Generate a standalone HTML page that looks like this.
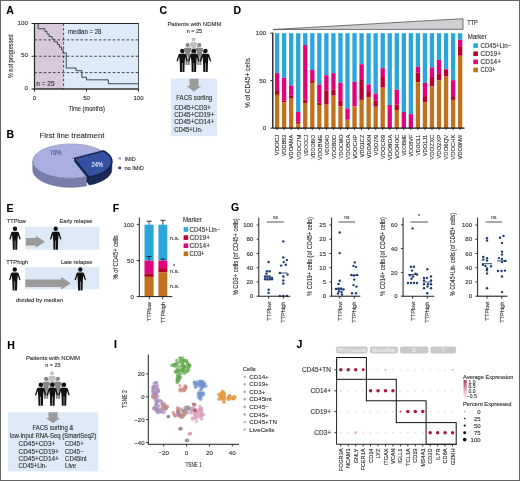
<!DOCTYPE html>
<html><head><meta charset="utf-8"><style>
html,body{margin:0;padding:0;background:#fff;}
svg{display:block;will-change:transform;}
text{font-family:"Liberation Sans", sans-serif;stroke:currentColor;stroke-width:0.12px;}
</style></head><body>
<svg width="520" height="481" viewBox="0 0 520 481">
<rect x="0" y="0" width="520" height="481" fill="#fff"/>
<text x="6.30" y="14.20" font-size="10.5" text-anchor="start" font-weight="bold" fill="#000" color="#000" >A</text>
<rect x="34.50" y="23.50" width="29.12" height="65.50" fill="#d9c8db" />
<rect x="63.62" y="23.50" width="74.88" height="65.50" fill="#ddeaf8" />
<line x1="34.50" y1="72.62" x2="138.50" y2="72.62" stroke="#333" stroke-width="0.9" stroke-dasharray="2.6,2"/>
<line x1="34.50" y1="56.25" x2="138.50" y2="56.25" stroke="#333" stroke-width="0.9" stroke-dasharray="2.6,2"/>
<line x1="34.50" y1="39.88" x2="138.50" y2="39.88" stroke="#333" stroke-width="0.9" stroke-dasharray="2.6,2"/>
<line x1="63.62" y1="23.50" x2="63.62" y2="89.00" stroke="#333" stroke-width="0.9" stroke-dasharray="2.6,2"/>
<path d="M34.50,23.50 L38.14,23.50 L38.14,28.74 L44.90,28.74 L44.90,31.36 L46.98,31.36 L46.98,33.98 L49.06,33.98 L49.06,36.60 L52.18,36.60 L52.18,39.22 L54.26,39.22 L54.26,41.84 L57.38,41.84 L57.38,44.46 L59.46,44.46 L59.46,47.08 L61.54,47.08 L61.54,49.70 L63.10,49.70 L63.10,52.98 L66.22,52.98 L66.22,68.04 L76.10,68.04 L76.10,70.66 L81.82,70.66 L81.82,77.21 L86.50,77.21 L86.50,79.83 L108.34,79.83 L108.34,83.76 L138.50,83.76" fill="none" stroke="#3a4a4a" stroke-width="1"/>
<rect x="34.5" y="23.5" width="104.0" height="65.5" fill="none" stroke="#333" stroke-width="0.8"/>
<line x1="34.50" y1="23.50" x2="138.50" y2="23.50" stroke="#222" stroke-width="1.1"/>
<line x1="34.50" y1="23.00" x2="34.50" y2="89.50" stroke="#222" stroke-width="1.2"/>
<line x1="33.50" y1="89.00" x2="138.50" y2="89.00" stroke="#222" stroke-width="1.2"/>
<line x1="31.50" y1="89.00" x2="34.50" y2="89.00" stroke="#222" stroke-width="1"/>
<text x="27.90" y="90.20" font-size="6.2" text-anchor="end" font-weight="normal" fill="#303030" color="#303030" >0</text>
<line x1="31.50" y1="56.25" x2="34.50" y2="56.25" stroke="#222" stroke-width="1"/>
<text x="27.90" y="57.45" font-size="6.2" text-anchor="end" font-weight="normal" fill="#303030" color="#303030" >50</text>
<line x1="31.50" y1="23.50" x2="34.50" y2="23.50" stroke="#222" stroke-width="1"/>
<text x="27.90" y="24.70" font-size="6.2" text-anchor="end" font-weight="normal" fill="#303030" color="#303030" >100</text>
<line x1="34.50" y1="89.00" x2="34.50" y2="91.50" stroke="#222" stroke-width="1"/>
<text x="34.50" y="99.80" font-size="6" text-anchor="middle" font-weight="normal" fill="#303030" color="#303030" >0</text>
<line x1="86.50" y1="89.00" x2="86.50" y2="91.50" stroke="#222" stroke-width="1"/>
<text x="86.50" y="99.80" font-size="6" text-anchor="middle" font-weight="normal" fill="#303030" color="#303030" >50</text>
<line x1="138.50" y1="89.00" x2="138.50" y2="91.50" stroke="#222" stroke-width="1"/>
<text x="138.50" y="99.80" font-size="6" text-anchor="middle" font-weight="normal" fill="#303030" color="#303030" >100</text>
<text x="86.75" y="111.00" font-size="7.0" text-anchor="middle" font-weight="normal" fill="#303030" color="#303030" textLength="36.5" lengthAdjust="spacingAndGlyphs" >Time (months)</text>
<text x="12.60" y="56.30" font-size="7.2" text-anchor="middle" font-weight="normal" fill="#303030" color="#303030" textLength="44" lengthAdjust="spacingAndGlyphs" transform="rotate(-90 12.60 56.30)" >% not progressed</text>
<text x="68.00" y="34.00" font-size="6.8" text-anchor="start" font-weight="normal" fill="#303030" color="#303030" textLength="33.5" lengthAdjust="spacingAndGlyphs" >median = 28</text>
<text x="36.20" y="86.00" font-size="6.4" text-anchor="start" font-weight="normal" fill="#303030" color="#303030" textLength="18.4" lengthAdjust="spacingAndGlyphs" >n = 25</text>
<text x="6.60" y="137.60" font-size="10.5" text-anchor="start" font-weight="bold" fill="#000" color="#000" >B</text>
<text x="72.00" y="138.00" font-size="7.4" text-anchor="middle" font-weight="normal" fill="#303030" color="#303030" textLength="65" lengthAdjust="spacingAndGlyphs" >First line treatment</text>
<path d="M111.80,161.40 A38.2,17.2 0 0 1 89.14,177.11 L89.14,185.11 A38.2,17.2 0 0 0 111.80,169.40 Z" fill="#1a2857" stroke="#101a40" stroke-width="0.6"/>
<path d="M74.19999999999999,158.60000000000002 L89.14,177.11 L89.14,185.11 L74.19999999999999,166.60000000000002 Z" fill="#14204a"/>
<path d="M71.6,158.3 L101.10,150.51 L103.70,150.81 L74.20,158.60 Z" fill="#1a2a5c"/>
<path d="M74.20,158.60 L103.70,150.81 A38.2,17.2 0 0 1 89.14,177.11 Z" fill="#3451a2" stroke="#15224e" stroke-width="1.4" stroke-linejoin="round"/>
<path d="M86.54,176.81 A38.2,17.2 0 0 1 32.80,161.10 L32.80,170.10 A38.2,17.2 0 0 0 86.54,185.81 Z" fill="#787eab" stroke="#5a5f88" stroke-width="0.5"/>
<path d="M71.6,158.3 L86.54,176.81 A38.2,17.2 0 1 1 101.10,150.51 Z" fill="#a9b0e0" stroke="#6e74a0" stroke-width="0.5"/>
<text x="55.70" y="155.20" font-size="6.8" text-anchor="middle" font-weight="normal" fill="#4e5588" color="#4e5588" textLength="11.5" lengthAdjust="spacingAndGlyphs" >76%</text>
<text x="97.20" y="166.80" font-size="6.8" text-anchor="middle" font-weight="normal" fill="#eef0ff" color="#eef0ff" textLength="11.5" lengthAdjust="spacingAndGlyphs" >24%</text>
<rect x="118.40" y="157.00" width="2.60" height="2.60" fill="#a9b0e0" />
<text x="124.40" y="160.60" font-size="6.2" text-anchor="start" font-weight="normal" fill="#303030" color="#303030" textLength="11.3" lengthAdjust="spacingAndGlyphs" >IMiD</text>
<rect x="118.40" y="166.60" width="2.60" height="2.60" fill="#26387a" />
<text x="124.40" y="170.20" font-size="6.2" text-anchor="start" font-weight="normal" fill="#303030" color="#303030" textLength="19.5" lengthAdjust="spacingAndGlyphs" >no IMiD</text>
<text x="159.50" y="14.40" font-size="10.5" text-anchor="start" font-weight="bold" fill="#000" color="#000" >C</text>
<text x="194.40" y="26.00" font-size="6.2" text-anchor="middle" font-weight="normal" fill="#303030" color="#303030" textLength="54" lengthAdjust="spacingAndGlyphs" >Patients with NDMM</text>
<text x="194.40" y="33.00" font-size="6.2" text-anchor="middle" font-weight="normal" fill="#303030" color="#303030" textLength="15.5" lengthAdjust="spacingAndGlyphs" >n = 25</text>
<g transform="translate(193.60,39.40) scale(0.88)" fill="#c2c2c2"><circle cx="0" cy="0" r="2.2"/><path d="M-2.3,2.9 Q-3.5,2.9 -3.9,4.3 L-5.7,10.2 Q-5.3,10.9 -4.5,10.6 L-3.0,5.9 L-2.4,12.0 L2.4,12.0 L3.0,5.9 L4.5,10.6 Q5.3,10.9 5.7,10.2 L3.9,4.3 Q3.5,2.9 2.3,2.9 Z"/><path d="M-2.45,11.5 L-0.25,11.5 L-0.25,21.0 L-2.2,21.0 Z M0.25,11.5 L2.45,11.5 L2.2,21.0 L0.25,21.0 Z"/></g>
<g transform="translate(187.60,45.00) scale(0.95)" fill="#858585"><circle cx="0" cy="0" r="2.2"/><path d="M-2.3,2.9 Q-3.5,2.9 -3.9,4.3 L-5.7,10.2 Q-5.3,10.9 -4.5,10.6 L-3.0,5.9 L-2.4,12.0 L2.4,12.0 L3.0,5.9 L4.5,10.6 Q5.3,10.9 5.7,10.2 L3.9,4.3 Q3.5,2.9 2.3,2.9 Z"/><path d="M-2.45,11.5 L-0.25,11.5 L-0.25,21.0 L-2.2,21.0 Z M0.25,11.5 L2.45,11.5 L2.2,21.0 L0.25,21.0 Z"/></g>
<g transform="translate(199.40,45.00) scale(0.95)" fill="#858585"><circle cx="0" cy="0" r="2.2"/><path d="M-2.3,2.9 Q-3.5,2.9 -3.9,4.3 L-5.7,10.2 Q-5.3,10.9 -4.5,10.6 L-3.0,5.9 L-2.4,12.0 L2.4,12.0 L3.0,5.9 L4.5,10.6 Q5.3,10.9 5.7,10.2 L3.9,4.3 Q3.5,2.9 2.3,2.9 Z"/><path d="M-2.45,11.5 L-0.25,11.5 L-0.25,21.0 L-2.2,21.0 Z M0.25,11.5 L2.45,11.5 L2.2,21.0 L0.25,21.0 Z"/></g>
<g transform="translate(182.20,50.90) scale(1.0)" fill="#111"><circle cx="0" cy="0" r="2.2"/><path d="M-2.3,2.9 Q-3.5,2.9 -3.9,4.3 L-5.7,10.2 Q-5.3,10.9 -4.5,10.6 L-3.0,5.9 L-2.4,12.0 L2.4,12.0 L3.0,5.9 L4.5,10.6 Q5.3,10.9 5.7,10.2 L3.9,4.3 Q3.5,2.9 2.3,2.9 Z"/><path d="M-2.45,11.5 L-0.25,11.5 L-0.25,21.0 L-2.2,21.0 Z M0.25,11.5 L2.45,11.5 L2.2,21.0 L0.25,21.0 Z"/></g>
<g transform="translate(193.90,50.90) scale(1.0)" fill="#111"><circle cx="0" cy="0" r="2.2"/><path d="M-2.3,2.9 Q-3.5,2.9 -3.9,4.3 L-5.7,10.2 Q-5.3,10.9 -4.5,10.6 L-3.0,5.9 L-2.4,12.0 L2.4,12.0 L3.0,5.9 L4.5,10.6 Q5.3,10.9 5.7,10.2 L3.9,4.3 Q3.5,2.9 2.3,2.9 Z"/><path d="M-2.45,11.5 L-0.25,11.5 L-0.25,21.0 L-2.2,21.0 Z M0.25,11.5 L2.45,11.5 L2.2,21.0 L0.25,21.0 Z"/></g>
<g transform="translate(205.50,50.90) scale(1.0)" fill="#111"><circle cx="0" cy="0" r="2.2"/><path d="M-2.3,2.9 Q-3.5,2.9 -3.9,4.3 L-5.7,10.2 Q-5.3,10.9 -4.5,10.6 L-3.0,5.9 L-2.4,12.0 L2.4,12.0 L3.0,5.9 L4.5,10.6 Q5.3,10.9 5.7,10.2 L3.9,4.3 Q3.5,2.9 2.3,2.9 Z"/><path d="M-2.45,11.5 L-0.25,11.5 L-0.25,21.0 L-2.2,21.0 Z M0.25,11.5 L2.45,11.5 L2.2,21.0 L0.25,21.0 Z"/></g>
<rect x="170.80" y="78.50" width="46.10" height="57.70" fill="#dde9f7" />
<path d="M189.50,78.80 L198.50,78.80 L198.50,86.00 L201.60,86.00 L194.00,91.60 L186.40,86.00 L189.50,86.00 Z" fill="#9a9a9a"/>
<text x="194.20" y="100.30" font-size="6.3" text-anchor="middle" font-weight="normal" fill="#303030" color="#303030" textLength="36" lengthAdjust="spacingAndGlyphs" >FACS sorting</text>
<text x="174.20" y="109.60" font-size="6.4" text-anchor="start" font-weight="normal" fill="#303030" color="#303030" textLength="36.6" lengthAdjust="spacingAndGlyphs" >CD45+CD3+</text>
<text x="174.20" y="117.00" font-size="6.4" text-anchor="start" font-weight="normal" fill="#303030" color="#303030" textLength="40.2" lengthAdjust="spacingAndGlyphs" >CD45+CD19+</text>
<text x="174.20" y="124.40" font-size="6.4" text-anchor="start" font-weight="normal" fill="#303030" color="#303030" textLength="40.2" lengthAdjust="spacingAndGlyphs" >CD45+CD14+</text>
<text x="174.20" y="131.80" font-size="6.4" text-anchor="start" font-weight="normal" fill="#303030" color="#303030" textLength="28.5" lengthAdjust="spacingAndGlyphs" >CD45+Lin-</text>
<text x="233.50" y="14.40" font-size="10.5" text-anchor="start" font-weight="bold" fill="#000" color="#000" >D</text>
<rect x="274.95" y="33.20" width="4.30" height="39.86" fill="#2aa6dd" />
<rect x="274.95" y="73.06" width="4.30" height="17.08" fill="#e2037c" />
<rect x="274.95" y="90.14" width="4.30" height="4.74" fill="#b8002a" />
<rect x="274.95" y="94.88" width="4.30" height="33.22" fill="#c2721f" />
<line x1="277.10" y1="128.10" x2="277.10" y2="130.10" stroke="#222" stroke-width="0.8"/>
<text x="279.40" y="134.70" font-size="5.8" text-anchor="end" font-weight="normal" fill="#303030" color="#303030" textLength="20.7" lengthAdjust="spacingAndGlyphs" transform="rotate(-90 279.40 134.70)" >VDOCJ</text>
<rect x="281.99" y="33.20" width="4.30" height="44.60" fill="#2aa6dd" />
<rect x="281.99" y="77.80" width="4.30" height="22.78" fill="#e2037c" />
<rect x="281.99" y="100.58" width="4.30" height="1.90" fill="#b8002a" />
<rect x="281.99" y="102.48" width="4.30" height="25.62" fill="#c2721f" />
<line x1="284.14" y1="128.10" x2="284.14" y2="130.10" stroke="#222" stroke-width="0.8"/>
<text x="286.44" y="134.70" font-size="5.8" text-anchor="end" font-weight="normal" fill="#303030" color="#303030" textLength="21.6" lengthAdjust="spacingAndGlyphs" transform="rotate(-90 286.44 134.70)" >VDOB63</text>
<rect x="289.03" y="33.20" width="4.30" height="52.20" fill="#2aa6dd" />
<rect x="289.03" y="85.39" width="4.30" height="10.44" fill="#e2037c" />
<rect x="289.03" y="95.83" width="4.30" height="2.85" fill="#b8002a" />
<rect x="289.03" y="98.68" width="4.30" height="29.42" fill="#c2721f" />
<line x1="291.18" y1="128.10" x2="291.18" y2="130.10" stroke="#222" stroke-width="0.8"/>
<text x="293.48" y="134.70" font-size="5.8" text-anchor="end" font-weight="normal" fill="#303030" color="#303030" textLength="24.5" lengthAdjust="spacingAndGlyphs" transform="rotate(-90 293.48 134.70)" >VDOAMA</text>
<rect x="296.07" y="33.20" width="4.30" height="78.77" fill="#2aa6dd" />
<rect x="296.07" y="111.97" width="4.30" height="9.49" fill="#e2037c" />
<rect x="296.07" y="121.46" width="4.30" height="2.28" fill="#b8002a" />
<rect x="296.07" y="123.73" width="4.30" height="4.37" fill="#c2721f" />
<line x1="298.22" y1="128.10" x2="298.22" y2="130.10" stroke="#222" stroke-width="0.8"/>
<text x="300.52" y="134.70" font-size="5.8" text-anchor="end" font-weight="normal" fill="#303030" color="#303030" textLength="25" lengthAdjust="spacingAndGlyphs" transform="rotate(-90 300.52 134.70)" >VDOC7M</text>
<rect x="303.11" y="33.20" width="4.30" height="11.86" fill="#2aa6dd" />
<rect x="303.11" y="45.06" width="4.30" height="54.57" fill="#e2037c" />
<rect x="303.11" y="99.63" width="4.30" height="3.32" fill="#b8002a" />
<rect x="303.11" y="102.95" width="4.30" height="25.15" fill="#c2721f" />
<line x1="305.26" y1="128.10" x2="305.26" y2="130.10" stroke="#222" stroke-width="0.8"/>
<text x="307.56" y="134.70" font-size="5.8" text-anchor="end" font-weight="normal" fill="#303030" color="#303030" textLength="21.6" lengthAdjust="spacingAndGlyphs" transform="rotate(-90 307.56 134.70)" >VDOOCJ</text>
<rect x="310.15" y="33.20" width="4.30" height="36.73" fill="#2aa6dd" />
<rect x="310.15" y="69.93" width="4.30" height="10.25" fill="#e2037c" />
<rect x="310.15" y="80.18" width="4.30" height="2.75" fill="#b8002a" />
<rect x="310.15" y="82.93" width="4.30" height="45.17" fill="#c2721f" />
<line x1="312.30" y1="128.10" x2="312.30" y2="130.10" stroke="#222" stroke-width="0.8"/>
<text x="314.60" y="134.70" font-size="5.8" text-anchor="end" font-weight="normal" fill="#303030" color="#303030" textLength="24" lengthAdjust="spacingAndGlyphs" transform="rotate(-90 314.60 134.70)" >VDOOBIO</text>
<rect x="317.19" y="33.20" width="4.30" height="51.25" fill="#2aa6dd" />
<rect x="317.19" y="84.45" width="4.30" height="18.03" fill="#e2037c" />
<rect x="317.19" y="102.48" width="4.30" height="2.56" fill="#b8002a" />
<rect x="317.19" y="105.04" width="4.30" height="23.06" fill="#c2721f" />
<line x1="319.34" y1="128.10" x2="319.34" y2="130.10" stroke="#222" stroke-width="0.8"/>
<text x="321.64" y="134.70" font-size="5.8" text-anchor="end" font-weight="normal" fill="#303030" color="#303030" textLength="25.5" lengthAdjust="spacingAndGlyphs" transform="rotate(-90 321.64 134.70)" >VDOBME</text>
<rect x="324.23" y="33.20" width="4.30" height="42.04" fill="#2aa6dd" />
<rect x="324.23" y="75.24" width="4.30" height="15.56" fill="#e2037c" />
<rect x="324.23" y="90.80" width="4.30" height="13.86" fill="#b8002a" />
<rect x="324.23" y="104.66" width="4.30" height="23.44" fill="#c2721f" />
<line x1="326.38" y1="128.10" x2="326.38" y2="130.10" stroke="#222" stroke-width="0.8"/>
<text x="328.68" y="134.70" font-size="5.8" text-anchor="end" font-weight="normal" fill="#303030" color="#303030" textLength="20.2" lengthAdjust="spacingAndGlyphs" transform="rotate(-90 328.68 134.70)" >VDOD4O</text>
<rect x="331.27" y="33.20" width="4.30" height="39.95" fill="#2aa6dd" />
<rect x="331.27" y="73.15" width="4.30" height="16.61" fill="#e2037c" />
<rect x="331.27" y="89.76" width="4.30" height="5.88" fill="#b8002a" />
<rect x="331.27" y="95.64" width="4.30" height="32.46" fill="#c2721f" />
<line x1="333.42" y1="128.10" x2="333.42" y2="130.10" stroke="#222" stroke-width="0.8"/>
<text x="335.72" y="134.70" font-size="5.8" text-anchor="end" font-weight="normal" fill="#303030" color="#303030" textLength="24.5" lengthAdjust="spacingAndGlyphs" transform="rotate(-90 335.72 134.70)" >VDOB0D</text>
<rect x="338.31" y="33.20" width="4.30" height="49.73" fill="#2aa6dd" />
<rect x="338.31" y="82.93" width="4.30" height="17.46" fill="#e2037c" />
<rect x="338.31" y="100.39" width="4.30" height="5.88" fill="#b8002a" />
<rect x="338.31" y="106.27" width="4.30" height="21.83" fill="#c2721f" />
<line x1="340.46" y1="128.10" x2="340.46" y2="130.10" stroke="#222" stroke-width="0.8"/>
<text x="342.76" y="134.70" font-size="5.8" text-anchor="end" font-weight="normal" fill="#303030" color="#303030" textLength="24" lengthAdjust="spacingAndGlyphs" transform="rotate(-90 342.76 134.70)" >VDOCMO</text>
<rect x="345.35" y="33.20" width="4.30" height="75.26" fill="#2aa6dd" />
<rect x="345.35" y="108.46" width="4.30" height="11.10" fill="#e2037c" />
<rect x="345.35" y="119.56" width="4.30" height="0.38" fill="#b8002a" />
<rect x="345.35" y="119.94" width="4.30" height="8.16" fill="#c2721f" />
<line x1="347.50" y1="128.10" x2="347.50" y2="130.10" stroke="#222" stroke-width="0.8"/>
<text x="349.80" y="134.70" font-size="5.8" text-anchor="end" font-weight="normal" fill="#303030" color="#303030" textLength="25" lengthAdjust="spacingAndGlyphs" transform="rotate(-90 349.80 134.70)" >VDOBOA</text>
<rect x="352.39" y="33.20" width="4.30" height="48.68" fill="#2aa6dd" />
<rect x="352.39" y="81.88" width="4.30" height="24.39" fill="#e2037c" />
<rect x="352.39" y="106.27" width="4.30" height="21.83" fill="#c2721f" />
<line x1="354.54" y1="128.10" x2="354.54" y2="130.10" stroke="#222" stroke-width="0.8"/>
<text x="356.84" y="134.70" font-size="5.8" text-anchor="end" font-weight="normal" fill="#303030" color="#303030" textLength="24" lengthAdjust="spacingAndGlyphs" transform="rotate(-90 356.84 134.70)" >VDOCHP</text>
<rect x="359.43" y="33.20" width="4.30" height="31.03" fill="#2aa6dd" />
<rect x="359.43" y="64.23" width="4.30" height="14.90" fill="#e2037c" />
<rect x="359.43" y="79.13" width="4.30" height="20.78" fill="#b8002a" />
<rect x="359.43" y="99.91" width="4.30" height="28.19" fill="#c2721f" />
<line x1="361.58" y1="128.10" x2="361.58" y2="130.10" stroke="#222" stroke-width="0.8"/>
<text x="363.88" y="134.70" font-size="5.8" text-anchor="end" font-weight="normal" fill="#303030" color="#303030" textLength="22.6" lengthAdjust="spacingAndGlyphs" transform="rotate(-90 363.88 134.70)" >VDO1CZ</text>
<rect x="366.47" y="33.20" width="4.30" height="51.25" fill="#2aa6dd" />
<rect x="366.47" y="84.45" width="4.30" height="7.59" fill="#e2037c" />
<rect x="366.47" y="92.04" width="4.30" height="5.12" fill="#b8002a" />
<rect x="366.47" y="97.16" width="4.30" height="30.94" fill="#c2721f" />
<line x1="368.62" y1="128.10" x2="368.62" y2="130.10" stroke="#222" stroke-width="0.8"/>
<text x="370.92" y="134.70" font-size="5.8" text-anchor="end" font-weight="normal" fill="#303030" color="#303030" textLength="23.5" lengthAdjust="spacingAndGlyphs" transform="rotate(-90 370.92 134.70)" >VDOAXN</text>
<rect x="373.51" y="33.20" width="4.30" height="60.36" fill="#2aa6dd" />
<rect x="373.51" y="93.56" width="4.30" height="6.83" fill="#e2037c" />
<rect x="373.51" y="100.39" width="4.30" height="6.36" fill="#b8002a" />
<rect x="373.51" y="106.75" width="4.30" height="21.35" fill="#c2721f" />
<line x1="375.66" y1="128.10" x2="375.66" y2="130.10" stroke="#222" stroke-width="0.8"/>
<text x="377.96" y="134.70" font-size="5.8" text-anchor="end" font-weight="normal" fill="#303030" color="#303030" textLength="20.7" lengthAdjust="spacingAndGlyphs" transform="rotate(-90 377.96 134.70)" >VDO7/9</text>
<rect x="380.55" y="33.20" width="4.30" height="34.92" fill="#2aa6dd" />
<rect x="380.55" y="68.12" width="4.30" height="8.92" fill="#e2037c" />
<rect x="380.55" y="77.04" width="4.30" height="10.63" fill="#b8002a" />
<rect x="380.55" y="87.67" width="4.30" height="40.43" fill="#c2721f" />
<line x1="382.70" y1="128.10" x2="382.70" y2="130.10" stroke="#222" stroke-width="0.8"/>
<text x="385.00" y="134.70" font-size="5.8" text-anchor="end" font-weight="normal" fill="#303030" color="#303030" textLength="24.5" lengthAdjust="spacingAndGlyphs" transform="rotate(-90 385.00 134.70)" >VDOCR9</text>
<rect x="387.59" y="33.20" width="4.30" height="71.84" fill="#2aa6dd" />
<rect x="387.59" y="105.04" width="4.30" height="23.06" fill="#e2037c" />
<line x1="389.74" y1="128.10" x2="389.74" y2="130.10" stroke="#222" stroke-width="0.8"/>
<text x="392.04" y="134.70" font-size="5.8" text-anchor="end" font-weight="normal" fill="#303030" color="#303030" textLength="25.5" lengthAdjust="spacingAndGlyphs" transform="rotate(-90 392.04 134.70)" >VDO8OA</text>
<rect x="394.63" y="33.20" width="4.30" height="56.56" fill="#2aa6dd" />
<rect x="394.63" y="89.76" width="4.30" height="14.90" fill="#e2037c" />
<rect x="394.63" y="104.66" width="4.30" height="5.31" fill="#b8002a" />
<rect x="394.63" y="109.97" width="4.30" height="18.13" fill="#c2721f" />
<line x1="396.78" y1="128.10" x2="396.78" y2="130.10" stroke="#222" stroke-width="0.8"/>
<text x="399.08" y="134.70" font-size="5.8" text-anchor="end" font-weight="normal" fill="#303030" color="#303030" textLength="24" lengthAdjust="spacingAndGlyphs" transform="rotate(-90 399.08 134.70)" >VDO4OC</text>
<rect x="401.67" y="33.20" width="4.30" height="78.86" fill="#2aa6dd" />
<rect x="401.67" y="112.06" width="4.30" height="16.04" fill="#e2037c" />
<line x1="403.82" y1="128.10" x2="403.82" y2="130.10" stroke="#222" stroke-width="0.8"/>
<text x="406.12" y="134.70" font-size="5.8" text-anchor="end" font-weight="normal" fill="#303030" color="#303030" textLength="21" lengthAdjust="spacingAndGlyphs" transform="rotate(-90 406.12 134.70)" >VDOBME</text>
<rect x="408.71" y="33.20" width="4.30" height="80.95" fill="#2aa6dd" />
<rect x="408.71" y="114.15" width="4.30" height="13.95" fill="#e2037c" />
<line x1="410.86" y1="128.10" x2="410.86" y2="130.10" stroke="#222" stroke-width="0.8"/>
<text x="413.16" y="134.70" font-size="5.8" text-anchor="end" font-weight="normal" fill="#303030" color="#303030" textLength="22" lengthAdjust="spacingAndGlyphs" transform="rotate(-90 413.16 134.70)" >VDO8VF</text>
<rect x="415.75" y="33.20" width="4.30" height="33.59" fill="#2aa6dd" />
<rect x="415.75" y="66.79" width="4.30" height="5.88" fill="#e2037c" />
<rect x="415.75" y="72.68" width="4.30" height="9.58" fill="#b8002a" />
<rect x="415.75" y="82.26" width="4.30" height="45.84" fill="#c2721f" />
<line x1="417.90" y1="128.10" x2="417.90" y2="130.10" stroke="#222" stroke-width="0.8"/>
<text x="420.20" y="134.70" font-size="5.8" text-anchor="end" font-weight="normal" fill="#303030" color="#303030" textLength="21" lengthAdjust="spacingAndGlyphs" transform="rotate(-90 420.20 134.70)" >VDOCL1</text>
<rect x="422.79" y="33.20" width="4.30" height="49.73" fill="#2aa6dd" />
<rect x="422.79" y="82.93" width="4.30" height="13.19" fill="#e2037c" />
<rect x="422.79" y="96.12" width="4.30" height="6.36" fill="#b8002a" />
<rect x="422.79" y="102.48" width="4.30" height="25.62" fill="#c2721f" />
<line x1="424.94" y1="128.10" x2="424.94" y2="130.10" stroke="#222" stroke-width="0.8"/>
<text x="427.24" y="134.70" font-size="5.8" text-anchor="end" font-weight="normal" fill="#303030" color="#303030" textLength="21.6" lengthAdjust="spacingAndGlyphs" transform="rotate(-90 427.24 134.70)" >VDO1J1</text>
<rect x="429.83" y="33.20" width="4.30" height="34.16" fill="#2aa6dd" />
<rect x="429.83" y="67.36" width="4.30" height="9.68" fill="#e2037c" />
<rect x="429.83" y="77.04" width="4.30" height="9.49" fill="#b8002a" />
<rect x="429.83" y="86.53" width="4.30" height="41.57" fill="#c2721f" />
<line x1="431.98" y1="128.10" x2="431.98" y2="130.10" stroke="#222" stroke-width="0.8"/>
<text x="434.28" y="134.70" font-size="5.8" text-anchor="end" font-weight="normal" fill="#303030" color="#303030" textLength="25" lengthAdjust="spacingAndGlyphs" transform="rotate(-90 434.28 134.70)" >VDOZXC</text>
<rect x="436.87" y="33.20" width="4.30" height="26.76" fill="#2aa6dd" />
<rect x="436.87" y="59.96" width="4.30" height="13.76" fill="#e2037c" />
<rect x="436.87" y="73.72" width="4.30" height="6.45" fill="#b8002a" />
<rect x="436.87" y="80.18" width="4.30" height="47.92" fill="#c2721f" />
<line x1="439.02" y1="128.10" x2="439.02" y2="130.10" stroke="#222" stroke-width="0.8"/>
<text x="441.32" y="134.70" font-size="5.8" text-anchor="end" font-weight="normal" fill="#303030" color="#303030" textLength="24" lengthAdjust="spacingAndGlyphs" transform="rotate(-90 441.32 134.70)" >VDO2XP</text>
<rect x="443.91" y="33.20" width="4.30" height="35.68" fill="#2aa6dd" />
<rect x="443.91" y="68.88" width="4.30" height="0.66" fill="#e2037c" />
<rect x="443.91" y="69.55" width="4.30" height="7.02" fill="#b8002a" />
<rect x="443.91" y="76.57" width="4.30" height="51.53" fill="#c2721f" />
<line x1="446.06" y1="128.10" x2="446.06" y2="130.10" stroke="#222" stroke-width="0.8"/>
<text x="448.36" y="134.70" font-size="5.8" text-anchor="end" font-weight="normal" fill="#303030" color="#303030" textLength="25" lengthAdjust="spacingAndGlyphs" transform="rotate(-90 448.36 134.70)" >VDO6QV</text>
<rect x="450.95" y="33.20" width="4.30" height="46.98" fill="#2aa6dd" />
<rect x="450.95" y="80.18" width="4.30" height="15.94" fill="#e2037c" />
<rect x="450.95" y="96.12" width="4.30" height="3.80" fill="#b8002a" />
<rect x="450.95" y="99.91" width="4.30" height="28.19" fill="#c2721f" />
<line x1="453.10" y1="128.10" x2="453.10" y2="130.10" stroke="#222" stroke-width="0.8"/>
<text x="455.40" y="134.70" font-size="5.8" text-anchor="end" font-weight="normal" fill="#303030" color="#303030" textLength="25" lengthAdjust="spacingAndGlyphs" transform="rotate(-90 455.40 134.70)" >VDOCHK</text>
<rect x="457.99" y="33.20" width="4.30" height="6.64" fill="#2aa6dd" />
<rect x="457.99" y="39.84" width="4.30" height="6.36" fill="#e2037c" />
<rect x="457.99" y="46.20" width="4.30" height="9.58" fill="#b8002a" />
<rect x="457.99" y="55.79" width="4.30" height="72.31" fill="#c2721f" />
<line x1="460.14" y1="128.10" x2="460.14" y2="130.10" stroke="#222" stroke-width="0.8"/>
<text x="462.44" y="134.70" font-size="5.8" text-anchor="end" font-weight="normal" fill="#303030" color="#303030" textLength="24.5" lengthAdjust="spacingAndGlyphs" transform="rotate(-90 462.44 134.70)" >VDO8NW</text>
<line x1="272.80" y1="32.70" x2="272.80" y2="128.10" stroke="#111" stroke-width="1.3"/>
<line x1="272.80" y1="128.10" x2="464.50" y2="128.10" stroke="#111" stroke-width="1.2"/>
<line x1="270.30" y1="128.10" x2="272.80" y2="128.10" stroke="#222" stroke-width="1"/>
<text x="266.20" y="130.20" font-size="6.2" text-anchor="end" font-weight="normal" fill="#303030" color="#303030" >0</text>
<line x1="270.30" y1="80.65" x2="272.80" y2="80.65" stroke="#222" stroke-width="1"/>
<text x="266.20" y="82.75" font-size="6.2" text-anchor="end" font-weight="normal" fill="#303030" color="#303030" >50</text>
<line x1="270.30" y1="33.20" x2="272.80" y2="33.20" stroke="#222" stroke-width="1"/>
<text x="266.20" y="35.30" font-size="6.2" text-anchor="end" font-weight="normal" fill="#303030" color="#303030" >100</text>
<text x="250.30" y="83.00" font-size="6.8" text-anchor="middle" font-weight="normal" fill="#303030" color="#303030" textLength="50" lengthAdjust="spacingAndGlyphs" transform="rotate(-90 250.30 83.00)" >% of CD45+ cells</text>
<path d="M273,29.5 L463,18.7 L463,29.3 Z" fill="#cfcfd3" stroke="#555" stroke-width="0.8"/>
<text x="467.30" y="25.40" font-size="6.7" text-anchor="start" font-weight="normal" fill="#303030" color="#303030" textLength="10.5" lengthAdjust="spacingAndGlyphs" >TTP</text>
<text x="467.80" y="39.20" font-size="6.7" text-anchor="start" font-weight="normal" fill="#303030" color="#303030" textLength="19" lengthAdjust="spacingAndGlyphs" >Marker</text>
<rect x="473.30" y="43.30" width="4.60" height="4.60" fill="#2aa6dd" />
<text x="480.50" y="48.00" font-size="6.7" text-anchor="start" font-weight="normal" fill="#303030" color="#303030" textLength="30.8" lengthAdjust="spacingAndGlyphs" >CD45+Lin−</text>
<rect x="473.30" y="51.43" width="4.60" height="4.60" fill="#b8002a" />
<text x="480.50" y="56.13" font-size="6.7" text-anchor="start" font-weight="normal" fill="#303030" color="#303030" textLength="20.5" lengthAdjust="spacingAndGlyphs" >CD19+</text>
<rect x="473.30" y="59.56" width="4.60" height="4.60" fill="#e2037c" />
<text x="480.50" y="64.26" font-size="6.7" text-anchor="start" font-weight="normal" fill="#303030" color="#303030" textLength="20.5" lengthAdjust="spacingAndGlyphs" >CD14+</text>
<rect x="473.30" y="67.69" width="4.60" height="4.60" fill="#c2721f" />
<text x="480.50" y="72.39" font-size="6.7" text-anchor="start" font-weight="normal" fill="#303030" color="#303030" textLength="15" lengthAdjust="spacingAndGlyphs" >CD3+</text>
<text x="6.60" y="211.80" font-size="10.5" text-anchor="start" font-weight="bold" fill="#000" color="#000" >E</text>
<text x="6.90" y="222.60" font-size="6" text-anchor="start" font-weight="normal" fill="#303030" color="#303030" textLength="19" lengthAdjust="spacingAndGlyphs" >TTPlow</text>
<text x="59.50" y="222.90" font-size="6" text-anchor="start" font-weight="normal" fill="#303030" color="#303030" textLength="33" lengthAdjust="spacingAndGlyphs" >Early relapse</text>
<rect x="25.00" y="226.80" width="74.40" height="22.90" fill="#dde9f7" />
<path d="M26.00,238.00 L35.80,238.00 L35.80,235.75 L45.00,241.80 L35.80,247.85 L35.80,245.60 L26.00,245.60 Z" fill="#9a9a9a"/>
<g transform="translate(15.00,228.80) scale(1.0)" fill="#111"><circle cx="0" cy="0" r="2.2"/><path d="M-2.3,2.9 Q-3.5,2.9 -3.9,4.3 L-5.7,10.2 Q-5.3,10.9 -4.5,10.6 L-3.0,5.9 L-2.4,12.0 L2.4,12.0 L3.0,5.9 L4.5,10.6 Q5.3,10.9 5.7,10.2 L3.9,4.3 Q3.5,2.9 2.3,2.9 Z"/><path d="M-2.45,11.5 L-0.25,11.5 L-0.25,21.0 L-2.2,21.0 Z M0.25,11.5 L2.45,11.5 L2.2,21.0 L0.25,21.0 Z"/></g>
<g transform="translate(55.70,228.80) scale(1.0)" fill="#111"><circle cx="0" cy="0" r="2.2"/><path d="M-2.3,2.9 Q-3.5,2.9 -3.9,4.3 L-5.7,10.2 Q-5.3,10.9 -4.5,10.6 L-3.0,5.9 L-2.4,12.0 L2.4,12.0 L3.0,5.9 L4.5,10.6 Q5.3,10.9 5.7,10.2 L3.9,4.3 Q3.5,2.9 2.3,2.9 Z"/><path d="M-2.45,11.5 L-0.25,11.5 L-0.25,21.0 L-2.2,21.0 Z M0.25,11.5 L2.45,11.5 L2.2,21.0 L0.25,21.0 Z"/></g>
<text x="6.30" y="263.70" font-size="6" text-anchor="start" font-weight="normal" fill="#303030" color="#303030" textLength="21.8" lengthAdjust="spacingAndGlyphs" >TTPhigh</text>
<text x="60.90" y="263.70" font-size="6" text-anchor="start" font-weight="normal" fill="#303030" color="#303030" textLength="31.5" lengthAdjust="spacingAndGlyphs" >Late relapse</text>
<rect x="25.00" y="267.20" width="74.40" height="22.00" fill="#dde9f7" />
<path d="M25.40,279.60 L61.30,279.60 L61.30,277.05 L70.80,283.30 L61.30,289.55 L61.30,287.00 L25.40,287.00 Z" fill="#9a9a9a"/>
<g transform="translate(14.80,269.50) scale(1.0)" fill="#111"><circle cx="0" cy="0" r="2.2"/><path d="M-2.3,2.9 Q-3.5,2.9 -3.9,4.3 L-5.7,10.2 Q-5.3,10.9 -4.5,10.6 L-3.0,5.9 L-2.4,12.0 L2.4,12.0 L3.0,5.9 L4.5,10.6 Q5.3,10.9 5.7,10.2 L3.9,4.3 Q3.5,2.9 2.3,2.9 Z"/><path d="M-2.45,11.5 L-0.25,11.5 L-0.25,21.0 L-2.2,21.0 Z M0.25,11.5 L2.45,11.5 L2.2,21.0 L0.25,21.0 Z"/></g>
<g transform="translate(80.30,269.50) scale(1.0)" fill="#111"><circle cx="0" cy="0" r="2.2"/><path d="M-2.3,2.9 Q-3.5,2.9 -3.9,4.3 L-5.7,10.2 Q-5.3,10.9 -4.5,10.6 L-3.0,5.9 L-2.4,12.0 L2.4,12.0 L3.0,5.9 L4.5,10.6 Q5.3,10.9 5.7,10.2 L3.9,4.3 Q3.5,2.9 2.3,2.9 Z"/><path d="M-2.45,11.5 L-0.25,11.5 L-0.25,21.0 L-2.2,21.0 Z M0.25,11.5 L2.45,11.5 L2.2,21.0 L0.25,21.0 Z"/></g>
<text x="15.90" y="302.20" font-size="6" text-anchor="start" font-weight="normal" fill="#303030" color="#303030" textLength="47" lengthAdjust="spacingAndGlyphs" >divided by median</text>
<text x="112.80" y="212.30" font-size="10.5" text-anchor="start" font-weight="bold" fill="#000" color="#000" >F</text>
<rect x="144.50" y="224.70" width="9.10" height="35.95" fill="#2aa6dd" />
<rect x="144.50" y="260.65" width="9.10" height="12.65" fill="#e2037c" />
<rect x="144.50" y="273.30" width="9.10" height="3.60" fill="#b8002a" />
<rect x="144.50" y="276.90" width="9.10" height="19.70" fill="#c2721f" />
<rect x="158.40" y="224.70" width="8.90" height="35.95" fill="#2aa6dd" />
<rect x="158.40" y="260.65" width="8.90" height="7.48" fill="#e2037c" />
<rect x="158.40" y="268.13" width="8.90" height="4.31" fill="#b8002a" />
<rect x="158.40" y="272.44" width="8.90" height="24.16" fill="#c2721f" />
<line x1="149.05" y1="221.20" x2="149.05" y2="224.70" stroke="#222" stroke-width="0.8"/>
<line x1="146.55" y1="221.20" x2="151.55" y2="221.20" stroke="#222" stroke-width="0.9"/>
<line x1="149.05" y1="256.50" x2="149.05" y2="260.65" stroke="#222" stroke-width="0.8"/>
<line x1="146.55" y1="256.50" x2="151.55" y2="256.50" stroke="#222" stroke-width="0.9"/>
<line x1="162.85" y1="220.30" x2="162.85" y2="224.70" stroke="#222" stroke-width="0.8"/>
<line x1="160.35" y1="220.30" x2="165.35" y2="220.30" stroke="#222" stroke-width="0.9"/>
<line x1="162.85" y1="259.00" x2="162.85" y2="260.65" stroke="#222" stroke-width="0.8"/>
<line x1="160.35" y1="259.00" x2="165.35" y2="259.00" stroke="#222" stroke-width="0.9"/>
<line x1="139.30" y1="217.50" x2="139.30" y2="296.60" stroke="#222" stroke-width="1"/>
<line x1="139.30" y1="296.60" x2="172.40" y2="296.60" stroke="#222" stroke-width="1"/>
<line x1="136.80" y1="296.60" x2="139.30" y2="296.60" stroke="#222" stroke-width="1"/>
<text x="133.90" y="298.70" font-size="6.2" text-anchor="end" font-weight="normal" fill="#303030" color="#303030" >0</text>
<line x1="136.80" y1="260.65" x2="139.30" y2="260.65" stroke="#222" stroke-width="1"/>
<text x="133.90" y="262.75" font-size="6.2" text-anchor="end" font-weight="normal" fill="#303030" color="#303030" >50</text>
<line x1="136.80" y1="224.70" x2="139.30" y2="224.70" stroke="#222" stroke-width="1"/>
<text x="133.90" y="226.80" font-size="6.2" text-anchor="end" font-weight="normal" fill="#303030" color="#303030" >100</text>
<line x1="149.30" y1="296.60" x2="149.30" y2="299.40" stroke="#222" stroke-width="0.9"/>
<text x="151.30" y="302.10" font-size="6" text-anchor="end" font-weight="normal" fill="#303030" color="#303030" textLength="19.2" lengthAdjust="spacingAndGlyphs" transform="rotate(-90 151.30 302.10)" >TTPlow</text>
<line x1="162.70" y1="296.60" x2="162.70" y2="299.40" stroke="#222" stroke-width="0.9"/>
<text x="164.70" y="302.10" font-size="6" text-anchor="end" font-weight="normal" fill="#303030" color="#303030" textLength="21.2" lengthAdjust="spacingAndGlyphs" transform="rotate(-90 164.70 302.10)" >TTPhigh</text>
<text x="117.60" y="257.40" font-size="6.6" text-anchor="middle" font-weight="normal" fill="#303030" color="#303030" textLength="44" lengthAdjust="spacingAndGlyphs" transform="rotate(-90 117.60 257.40)" >% of CD45+ cells</text>
<text x="183.00" y="222.20" font-size="6.7" text-anchor="start" font-weight="normal" fill="#303030" color="#303030" textLength="19" lengthAdjust="spacingAndGlyphs" >Marker</text>
<rect x="183.60" y="227.20" width="4.60" height="4.60" fill="#2aa6dd" />
<text x="189.50" y="231.90" font-size="6.7" text-anchor="start" font-weight="normal" fill="#303030" color="#303030" textLength="30.8" lengthAdjust="spacingAndGlyphs" >CD45+Lin−</text>
<rect x="183.60" y="235.30" width="4.60" height="4.60" fill="#b8002a" />
<text x="189.50" y="240.00" font-size="6.7" text-anchor="start" font-weight="normal" fill="#303030" color="#303030" textLength="20.5" lengthAdjust="spacingAndGlyphs" >CD19+</text>
<rect x="183.60" y="243.40" width="4.60" height="4.60" fill="#e2037c" />
<text x="189.50" y="248.10" font-size="6.7" text-anchor="start" font-weight="normal" fill="#303030" color="#303030" textLength="20.5" lengthAdjust="spacingAndGlyphs" >CD14+</text>
<rect x="183.60" y="251.50" width="4.60" height="4.60" fill="#c2721f" />
<text x="189.50" y="256.20" font-size="6.7" text-anchor="start" font-weight="normal" fill="#303030" color="#303030" textLength="15" lengthAdjust="spacingAndGlyphs" >CD3+</text>
<text x="169.80" y="240.00" font-size="6" text-anchor="start" font-weight="normal" fill="#303030" color="#303030" textLength="9.5" lengthAdjust="spacingAndGlyphs" >n.s.</text>
<text x="169.80" y="273.20" font-size="6" text-anchor="start" font-weight="normal" fill="#303030" color="#303030" textLength="9.5" lengthAdjust="spacingAndGlyphs" >n.s.</text>
<text x="169.80" y="287.70" font-size="6" text-anchor="start" font-weight="normal" fill="#303030" color="#303030" textLength="9.5" lengthAdjust="spacingAndGlyphs" >n.s.</text>
<text x="173.00" y="268.30" font-size="5.5" text-anchor="start" font-weight="normal" fill="#303030" color="#303030" >*</text>
<text x="230.90" y="211.40" font-size="10.5" text-anchor="start" font-weight="bold" fill="#000" color="#000" >G</text>
<circle cx="268.60" cy="262.00" r="1.20" fill="#1d3a70" />
<circle cx="267.00" cy="271.20" r="1.20" fill="#1d3a70" />
<circle cx="269.70" cy="271.20" r="1.20" fill="#1d3a70" />
<circle cx="265.00" cy="276.50" r="1.20" fill="#1d3a70" />
<circle cx="267.40" cy="276.50" r="1.20" fill="#1d3a70" />
<circle cx="269.70" cy="276.50" r="1.20" fill="#1d3a70" />
<circle cx="272.00" cy="278.00" r="1.20" fill="#1d3a70" />
<circle cx="265.00" cy="279.30" r="1.20" fill="#1d3a70" />
<circle cx="267.40" cy="279.50" r="1.20" fill="#1d3a70" />
<circle cx="269.70" cy="279.30" r="1.20" fill="#1d3a70" />
<circle cx="272.00" cy="279.30" r="1.20" fill="#1d3a70" />
<circle cx="268.60" cy="289.70" r="1.20" fill="#1d3a70" />
<circle cx="268.60" cy="292.90" r="1.20" fill="#1d3a70" />
<circle cx="266.50" cy="273.80" r="1.20" fill="#1d3a70" />
<circle cx="283.30" cy="241.40" r="1.20" fill="#1d3a70" />
<circle cx="283.30" cy="257.40" r="1.20" fill="#1d3a70" />
<circle cx="286.90" cy="260.10" r="1.20" fill="#1d3a70" />
<circle cx="283.70" cy="262.10" r="1.20" fill="#1d3a70" />
<circle cx="281.10" cy="265.60" r="1.20" fill="#1d3a70" />
<circle cx="285.80" cy="264.80" r="1.20" fill="#1d3a70" />
<circle cx="279.80" cy="272.90" r="1.20" fill="#1d3a70" />
<circle cx="287.60" cy="274.60" r="1.20" fill="#1d3a70" />
<circle cx="283.30" cy="276.50" r="1.20" fill="#1d3a70" />
<circle cx="283.30" cy="280.40" r="1.20" fill="#1d3a70" />
<circle cx="283.30" cy="283.50" r="1.20" fill="#1d3a70" />
<circle cx="279.80" cy="296.00" r="1.20" fill="#1d3a70" />
<circle cx="283.30" cy="296.00" r="1.20" fill="#1d3a70" />
<circle cx="286.90" cy="296.00" r="1.20" fill="#1d3a70" />
<line x1="258.80" y1="217.60" x2="258.80" y2="296.20" stroke="#222" stroke-width="1"/>
<line x1="258.30" y1="296.20" x2="290.30" y2="296.20" stroke="#222" stroke-width="1.1"/>
<line x1="256.60" y1="296.20" x2="258.80" y2="296.20" stroke="#222" stroke-width="0.9"/>
<text x="253.20" y="298.30" font-size="6.0" text-anchor="end" font-weight="normal" fill="#303030" color="#303030" >0</text>
<line x1="256.60" y1="281.96" x2="258.80" y2="281.96" stroke="#222" stroke-width="0.9"/>
<text x="253.20" y="284.06" font-size="6.0" text-anchor="end" font-weight="normal" fill="#303030" color="#303030" >20</text>
<line x1="256.60" y1="267.72" x2="258.80" y2="267.72" stroke="#222" stroke-width="0.9"/>
<text x="253.20" y="269.82" font-size="6.0" text-anchor="end" font-weight="normal" fill="#303030" color="#303030" >40</text>
<line x1="256.60" y1="253.48" x2="258.80" y2="253.48" stroke="#222" stroke-width="0.9"/>
<text x="253.20" y="255.58" font-size="6.0" text-anchor="end" font-weight="normal" fill="#303030" color="#303030" >60</text>
<line x1="256.60" y1="239.24" x2="258.80" y2="239.24" stroke="#222" stroke-width="0.9"/>
<text x="253.20" y="241.34" font-size="6.0" text-anchor="end" font-weight="normal" fill="#303030" color="#303030" >80</text>
<line x1="256.60" y1="225.00" x2="258.80" y2="225.00" stroke="#222" stroke-width="0.9"/>
<text x="253.20" y="227.10" font-size="6.0" text-anchor="end" font-weight="normal" fill="#303030" color="#303030" >100</text>
<text x="237.70" y="256.80" font-size="7.0" text-anchor="middle" font-weight="normal" fill="#303030" color="#303030" textLength="77" lengthAdjust="spacingAndGlyphs" transform="rotate(-90 237.70 256.80)" >% CD3+ cells (of CD45+ cells)</text>
<line x1="266.90" y1="222.00" x2="283.80" y2="222.00" stroke="#555" stroke-width="1.0"/>
<text x="275.35" y="218.60" font-size="4.8" text-anchor="middle" font-weight="normal" fill="#444" color="#444" >ns</text>
<line x1="264.50" y1="278.00" x2="273.00" y2="278.00" stroke="#1d3a70" stroke-width="0.9"/>
<line x1="268.60" y1="296.20" x2="268.60" y2="298.70" stroke="#222" stroke-width="0.9"/>
<text x="270.60" y="301.70" font-size="5.8" text-anchor="end" font-weight="normal" fill="#303030" color="#303030" textLength="19" lengthAdjust="spacingAndGlyphs" transform="rotate(-90 270.60 301.70)" >TTPlow</text>
<line x1="279.00" y1="273.00" x2="287.50" y2="273.00" stroke="#1d3a70" stroke-width="0.9"/>
<line x1="283.40" y1="296.20" x2="283.40" y2="298.70" stroke="#222" stroke-width="0.9"/>
<text x="285.40" y="301.70" font-size="5.8" text-anchor="end" font-weight="normal" fill="#303030" color="#303030" textLength="21" lengthAdjust="spacingAndGlyphs" transform="rotate(-90 285.40 301.70)" >TTPhigh</text>
<circle cx="339.70" cy="232.50" r="1.20" fill="#1d3a70" />
<circle cx="339.70" cy="253.10" r="1.20" fill="#1d3a70" />
<circle cx="339.70" cy="280.80" r="1.20" fill="#1d3a70" />
<circle cx="338.60" cy="284.00" r="1.20" fill="#1d3a70" />
<circle cx="336.00" cy="289.00" r="1.20" fill="#1d3a70" />
<circle cx="338.50" cy="288.50" r="1.20" fill="#1d3a70" />
<circle cx="341.00" cy="288.50" r="1.20" fill="#1d3a70" />
<circle cx="343.50" cy="289.50" r="1.20" fill="#1d3a70" />
<circle cx="339.00" cy="291.30" r="1.20" fill="#1d3a70" />
<circle cx="341.50" cy="292.00" r="1.20" fill="#1d3a70" />
<circle cx="338.00" cy="293.50" r="1.20" fill="#1d3a70" />
<circle cx="342.00" cy="294.50" r="1.20" fill="#1d3a70" />
<circle cx="354.70" cy="262.40" r="1.20" fill="#1d3a70" />
<circle cx="353.50" cy="265.90" r="1.20" fill="#1d3a70" />
<circle cx="356.00" cy="267.10" r="1.20" fill="#1d3a70" />
<circle cx="351.50" cy="274.90" r="1.20" fill="#1d3a70" />
<circle cx="354.00" cy="275.50" r="1.20" fill="#1d3a70" />
<circle cx="357.00" cy="275.00" r="1.20" fill="#1d3a70" />
<circle cx="354.20" cy="279.60" r="1.20" fill="#1d3a70" />
<circle cx="353.50" cy="285.10" r="1.20" fill="#1d3a70" />
<circle cx="356.50" cy="286.60" r="1.20" fill="#1d3a70" />
<circle cx="352.00" cy="293.30" r="1.20" fill="#1d3a70" />
<circle cx="356.00" cy="293.30" r="1.20" fill="#1d3a70" />
<line x1="331.60" y1="217.60" x2="331.60" y2="296.20" stroke="#222" stroke-width="1"/>
<line x1="331.10" y1="296.20" x2="360.30" y2="296.20" stroke="#222" stroke-width="1.1"/>
<line x1="329.40" y1="296.20" x2="331.60" y2="296.20" stroke="#222" stroke-width="0.9"/>
<text x="326.00" y="298.30" font-size="6.0" text-anchor="end" font-weight="normal" fill="#303030" color="#303030" >0</text>
<line x1="329.40" y1="281.96" x2="331.60" y2="281.96" stroke="#222" stroke-width="0.9"/>
<text x="326.00" y="284.06" font-size="6.0" text-anchor="end" font-weight="normal" fill="#303030" color="#303030" >5</text>
<line x1="329.40" y1="267.72" x2="331.60" y2="267.72" stroke="#222" stroke-width="0.9"/>
<text x="326.00" y="269.82" font-size="6.0" text-anchor="end" font-weight="normal" fill="#303030" color="#303030" >10</text>
<line x1="329.40" y1="253.48" x2="331.60" y2="253.48" stroke="#222" stroke-width="0.9"/>
<text x="326.00" y="255.58" font-size="6.0" text-anchor="end" font-weight="normal" fill="#303030" color="#303030" >15</text>
<line x1="329.40" y1="239.24" x2="331.60" y2="239.24" stroke="#222" stroke-width="0.9"/>
<text x="326.00" y="241.34" font-size="6.0" text-anchor="end" font-weight="normal" fill="#303030" color="#303030" >20</text>
<line x1="329.40" y1="225.00" x2="331.60" y2="225.00" stroke="#222" stroke-width="0.9"/>
<text x="326.00" y="227.10" font-size="6.0" text-anchor="end" font-weight="normal" fill="#303030" color="#303030" >25</text>
<text x="312.30" y="256.50" font-size="7.0" text-anchor="middle" font-weight="normal" fill="#303030" color="#303030" textLength="78.8" lengthAdjust="spacingAndGlyphs" transform="rotate(-90 312.30 256.50)" >% CD19+ cells (of CD45+ cells)</text>
<line x1="338.50" y1="222.00" x2="355.10" y2="222.00" stroke="#555" stroke-width="1.0"/>
<text x="346.80" y="218.60" font-size="4.8" text-anchor="middle" font-weight="normal" fill="#444" color="#444" >ns</text>
<line x1="335.50" y1="289.30" x2="344.00" y2="289.30" stroke="#1d3a70" stroke-width="0.9"/>
<line x1="339.70" y1="296.20" x2="339.70" y2="298.70" stroke="#222" stroke-width="0.9"/>
<text x="341.70" y="301.70" font-size="5.8" text-anchor="end" font-weight="normal" fill="#303030" color="#303030" textLength="19" lengthAdjust="spacingAndGlyphs" transform="rotate(-90 341.70 301.70)" >TTPlow</text>
<line x1="350.00" y1="275.30" x2="358.50" y2="275.30" stroke="#1d3a70" stroke-width="0.9"/>
<line x1="354.30" y1="296.20" x2="354.30" y2="298.70" stroke="#222" stroke-width="0.9"/>
<text x="356.30" y="301.70" font-size="5.8" text-anchor="end" font-weight="normal" fill="#303030" color="#303030" textLength="21" lengthAdjust="spacingAndGlyphs" transform="rotate(-90 356.30 301.70)" >TTPhigh</text>
<circle cx="412.60" cy="228.40" r="1.20" fill="#1d3a70" />
<circle cx="411.00" cy="266.80" r="1.20" fill="#1d3a70" />
<circle cx="414.00" cy="266.80" r="1.20" fill="#1d3a70" />
<circle cx="412.00" cy="270.60" r="1.20" fill="#1d3a70" />
<circle cx="415.50" cy="273.70" r="1.20" fill="#1d3a70" />
<circle cx="417.00" cy="274.60" r="1.20" fill="#1d3a70" />
<circle cx="410.00" cy="275.20" r="1.20" fill="#1d3a70" />
<circle cx="413.00" cy="276.50" r="1.20" fill="#1d3a70" />
<circle cx="411.50" cy="278.80" r="1.20" fill="#1d3a70" />
<circle cx="408.00" cy="283.00" r="1.20" fill="#1d3a70" />
<circle cx="411.00" cy="283.00" r="1.20" fill="#1d3a70" />
<circle cx="414.00" cy="283.00" r="1.20" fill="#1d3a70" />
<circle cx="417.00" cy="283.00" r="1.20" fill="#1d3a70" />
<circle cx="427.30" cy="269.20" r="1.20" fill="#1d3a70" />
<circle cx="424.00" cy="278.00" r="1.20" fill="#1d3a70" />
<circle cx="427.00" cy="278.00" r="1.20" fill="#1d3a70" />
<circle cx="431.00" cy="276.50" r="1.20" fill="#1d3a70" />
<circle cx="424.00" cy="280.50" r="1.20" fill="#1d3a70" />
<circle cx="431.00" cy="280.50" r="1.20" fill="#1d3a70" />
<circle cx="424.00" cy="284.30" r="1.20" fill="#1d3a70" />
<circle cx="428.00" cy="284.30" r="1.20" fill="#1d3a70" />
<circle cx="431.00" cy="284.30" r="1.20" fill="#1d3a70" />
<circle cx="424.00" cy="288.20" r="1.20" fill="#1d3a70" />
<circle cx="427.50" cy="286.60" r="1.20" fill="#1d3a70" />
<circle cx="431.00" cy="288.20" r="1.20" fill="#1d3a70" />
<circle cx="427.30" cy="293.30" r="1.20" fill="#1d3a70" />
<line x1="403.10" y1="217.60" x2="403.10" y2="296.20" stroke="#222" stroke-width="1"/>
<line x1="402.60" y1="296.20" x2="434.30" y2="296.20" stroke="#222" stroke-width="1.1"/>
<line x1="400.90" y1="296.20" x2="403.10" y2="296.20" stroke="#222" stroke-width="0.9"/>
<text x="397.50" y="298.30" font-size="6.0" text-anchor="end" font-weight="normal" fill="#303030" color="#303030" >0</text>
<line x1="400.90" y1="272.40" x2="403.10" y2="272.40" stroke="#222" stroke-width="0.9"/>
<text x="397.50" y="274.50" font-size="6.0" text-anchor="end" font-weight="normal" fill="#303030" color="#303030" >20</text>
<line x1="400.90" y1="248.60" x2="403.10" y2="248.60" stroke="#222" stroke-width="0.9"/>
<text x="397.50" y="250.70" font-size="6.0" text-anchor="end" font-weight="normal" fill="#303030" color="#303030" >40</text>
<line x1="400.90" y1="224.80" x2="403.10" y2="224.80" stroke="#222" stroke-width="0.9"/>
<text x="397.50" y="226.90" font-size="6.0" text-anchor="end" font-weight="normal" fill="#303030" color="#303030" >60</text>
<text x="385.20" y="256.50" font-size="7.0" text-anchor="middle" font-weight="normal" fill="#303030" color="#303030" textLength="78.8" lengthAdjust="spacingAndGlyphs" transform="rotate(-90 385.20 256.50)" >% CD14+ cells (of CD45+ cells)</text>
<line x1="410.30" y1="222.00" x2="428.00" y2="222.00" stroke="#555" stroke-width="1.0"/>
<text x="419.15" y="217.60" font-size="5.5" text-anchor="middle" font-weight="normal" fill="#444" color="#444" >*</text>
<line x1="408.00" y1="274.60" x2="418.00" y2="274.60" stroke="#1d3a70" stroke-width="0.9"/>
<line x1="412.60" y1="296.20" x2="412.60" y2="298.70" stroke="#222" stroke-width="0.9"/>
<text x="414.60" y="301.70" font-size="5.8" text-anchor="end" font-weight="normal" fill="#303030" color="#303030" textLength="19" lengthAdjust="spacingAndGlyphs" transform="rotate(-90 414.60 301.70)" >TTPlow</text>
<line x1="423.00" y1="282.00" x2="432.00" y2="282.00" stroke="#1d3a70" stroke-width="0.9"/>
<line x1="427.30" y1="296.20" x2="427.30" y2="298.70" stroke="#222" stroke-width="0.9"/>
<text x="429.30" y="301.70" font-size="5.8" text-anchor="end" font-weight="normal" fill="#303030" color="#303030" textLength="21" lengthAdjust="spacingAndGlyphs" transform="rotate(-90 429.30 301.70)" >TTPhigh</text>
<circle cx="487.00" cy="238.30" r="1.20" fill="#1d3a70" />
<circle cx="487.00" cy="240.60" r="1.20" fill="#1d3a70" />
<circle cx="483.30" cy="257.00" r="1.20" fill="#1d3a70" />
<circle cx="483.30" cy="259.60" r="1.20" fill="#1d3a70" />
<circle cx="487.00" cy="258.20" r="1.20" fill="#1d3a70" />
<circle cx="487.00" cy="260.60" r="1.20" fill="#1d3a70" />
<circle cx="483.00" cy="264.80" r="1.20" fill="#1d3a70" />
<circle cx="485.50" cy="265.90" r="1.20" fill="#1d3a70" />
<circle cx="491.00" cy="266.30" r="1.20" fill="#1d3a70" />
<circle cx="487.00" cy="268.40" r="1.20" fill="#1d3a70" />
<circle cx="487.00" cy="270.20" r="1.20" fill="#1d3a70" />
<circle cx="487.00" cy="273.40" r="1.20" fill="#1d3a70" />
<circle cx="487.00" cy="288.20" r="1.20" fill="#1d3a70" />
<circle cx="500.00" cy="237.80" r="1.20" fill="#1d3a70" />
<circle cx="503.50" cy="235.90" r="1.20" fill="#1d3a70" />
<circle cx="502.00" cy="242.90" r="1.20" fill="#1d3a70" />
<circle cx="502.00" cy="251.80" r="1.20" fill="#1d3a70" />
<circle cx="502.00" cy="254.60" r="1.20" fill="#1d3a70" />
<circle cx="499.00" cy="258.10" r="1.20" fill="#1d3a70" />
<circle cx="502.00" cy="259.00" r="1.20" fill="#1d3a70" />
<circle cx="505.00" cy="260.90" r="1.20" fill="#1d3a70" />
<circle cx="502.00" cy="262.10" r="1.20" fill="#1d3a70" />
<circle cx="498.00" cy="271.00" r="1.20" fill="#1d3a70" />
<circle cx="501.50" cy="271.00" r="1.20" fill="#1d3a70" />
<circle cx="505.00" cy="270.60" r="1.20" fill="#1d3a70" />
<circle cx="502.00" cy="276.50" r="1.20" fill="#1d3a70" />
<circle cx="502.00" cy="292.10" r="1.20" fill="#1d3a70" />
<line x1="477.60" y1="217.60" x2="477.60" y2="296.20" stroke="#222" stroke-width="1"/>
<line x1="477.10" y1="296.20" x2="507.40" y2="296.20" stroke="#222" stroke-width="1.1"/>
<line x1="475.40" y1="296.20" x2="477.60" y2="296.20" stroke="#222" stroke-width="0.9"/>
<text x="472.00" y="298.30" font-size="6.0" text-anchor="end" font-weight="normal" fill="#303030" color="#303030" >0</text>
<line x1="475.40" y1="281.96" x2="477.60" y2="281.96" stroke="#222" stroke-width="0.9"/>
<text x="472.00" y="284.06" font-size="6.0" text-anchor="end" font-weight="normal" fill="#303030" color="#303030" >20</text>
<line x1="475.40" y1="267.72" x2="477.60" y2="267.72" stroke="#222" stroke-width="0.9"/>
<text x="472.00" y="269.82" font-size="6.0" text-anchor="end" font-weight="normal" fill="#303030" color="#303030" >40</text>
<line x1="475.40" y1="253.48" x2="477.60" y2="253.48" stroke="#222" stroke-width="0.9"/>
<text x="472.00" y="255.58" font-size="6.0" text-anchor="end" font-weight="normal" fill="#303030" color="#303030" >60</text>
<line x1="475.40" y1="239.24" x2="477.60" y2="239.24" stroke="#222" stroke-width="0.9"/>
<text x="472.00" y="241.34" font-size="6.0" text-anchor="end" font-weight="normal" fill="#303030" color="#303030" >80</text>
<line x1="475.40" y1="225.00" x2="477.60" y2="225.00" stroke="#222" stroke-width="0.9"/>
<text x="472.00" y="227.10" font-size="6.0" text-anchor="end" font-weight="normal" fill="#303030" color="#303030" >100</text>
<text x="455.40" y="254.50" font-size="7.0" text-anchor="middle" font-weight="normal" fill="#303030" color="#303030" textLength="83" lengthAdjust="spacingAndGlyphs" transform="rotate(-90 455.40 254.50)" >% CD45+Lin- cells (of CD45+ cells)</text>
<line x1="485.50" y1="222.00" x2="502.20" y2="222.00" stroke="#555" stroke-width="1.0"/>
<text x="493.85" y="218.60" font-size="4.8" text-anchor="middle" font-weight="normal" fill="#444" color="#444" >ns</text>
<line x1="482.00" y1="263.70" x2="492.00" y2="263.70" stroke="#1d3a70" stroke-width="0.9"/>
<line x1="487.00" y1="296.20" x2="487.00" y2="298.70" stroke="#222" stroke-width="0.9"/>
<text x="489.00" y="301.70" font-size="5.8" text-anchor="end" font-weight="normal" fill="#303030" color="#303030" textLength="19" lengthAdjust="spacingAndGlyphs" transform="rotate(-90 489.00 301.70)" >TTPlow</text>
<line x1="497.00" y1="260.90" x2="507.00" y2="260.90" stroke="#1d3a70" stroke-width="0.9"/>
<line x1="501.70" y1="296.20" x2="501.70" y2="298.70" stroke="#222" stroke-width="0.9"/>
<text x="503.70" y="301.70" font-size="5.8" text-anchor="end" font-weight="normal" fill="#303030" color="#303030" textLength="21" lengthAdjust="spacingAndGlyphs" transform="rotate(-90 503.70 301.70)" >TTPhigh</text>
<text x="7.30" y="348.60" font-size="10.5" text-anchor="start" font-weight="bold" fill="#000" color="#000" >H</text>
<text x="52.90" y="359.90" font-size="6.2" text-anchor="middle" font-weight="normal" fill="#303030" color="#303030" textLength="54" lengthAdjust="spacingAndGlyphs" >Patients with NDMM</text>
<text x="52.90" y="366.90" font-size="6.2" text-anchor="middle" font-weight="normal" fill="#303030" color="#303030" textLength="15.5" lengthAdjust="spacingAndGlyphs" >n = 25</text>
<rect x="8.00" y="412.30" width="90.30" height="59.00" fill="#dde9f7" />
<g transform="translate(52.10,373.30) scale(0.88)" fill="#c2c2c2"><circle cx="0" cy="0" r="2.2"/><path d="M-2.3,2.9 Q-3.5,2.9 -3.9,4.3 L-5.7,10.2 Q-5.3,10.9 -4.5,10.6 L-3.0,5.9 L-2.4,12.0 L2.4,12.0 L3.0,5.9 L4.5,10.6 Q5.3,10.9 5.7,10.2 L3.9,4.3 Q3.5,2.9 2.3,2.9 Z"/><path d="M-2.45,11.5 L-0.25,11.5 L-0.25,21.0 L-2.2,21.0 Z M0.25,11.5 L2.45,11.5 L2.2,21.0 L0.25,21.0 Z"/></g>
<g transform="translate(46.10,378.90) scale(0.95)" fill="#858585"><circle cx="0" cy="0" r="2.2"/><path d="M-2.3,2.9 Q-3.5,2.9 -3.9,4.3 L-5.7,10.2 Q-5.3,10.9 -4.5,10.6 L-3.0,5.9 L-2.4,12.0 L2.4,12.0 L3.0,5.9 L4.5,10.6 Q5.3,10.9 5.7,10.2 L3.9,4.3 Q3.5,2.9 2.3,2.9 Z"/><path d="M-2.45,11.5 L-0.25,11.5 L-0.25,21.0 L-2.2,21.0 Z M0.25,11.5 L2.45,11.5 L2.2,21.0 L0.25,21.0 Z"/></g>
<g transform="translate(57.90,378.90) scale(0.95)" fill="#858585"><circle cx="0" cy="0" r="2.2"/><path d="M-2.3,2.9 Q-3.5,2.9 -3.9,4.3 L-5.7,10.2 Q-5.3,10.9 -4.5,10.6 L-3.0,5.9 L-2.4,12.0 L2.4,12.0 L3.0,5.9 L4.5,10.6 Q5.3,10.9 5.7,10.2 L3.9,4.3 Q3.5,2.9 2.3,2.9 Z"/><path d="M-2.45,11.5 L-0.25,11.5 L-0.25,21.0 L-2.2,21.0 Z M0.25,11.5 L2.45,11.5 L2.2,21.0 L0.25,21.0 Z"/></g>
<g transform="translate(40.70,384.80) scale(1.0)" fill="#111"><circle cx="0" cy="0" r="2.2"/><path d="M-2.3,2.9 Q-3.5,2.9 -3.9,4.3 L-5.7,10.2 Q-5.3,10.9 -4.5,10.6 L-3.0,5.9 L-2.4,12.0 L2.4,12.0 L3.0,5.9 L4.5,10.6 Q5.3,10.9 5.7,10.2 L3.9,4.3 Q3.5,2.9 2.3,2.9 Z"/><path d="M-2.45,11.5 L-0.25,11.5 L-0.25,21.0 L-2.2,21.0 Z M0.25,11.5 L2.45,11.5 L2.2,21.0 L0.25,21.0 Z"/></g>
<g transform="translate(52.40,384.80) scale(1.0)" fill="#111"><circle cx="0" cy="0" r="2.2"/><path d="M-2.3,2.9 Q-3.5,2.9 -3.9,4.3 L-5.7,10.2 Q-5.3,10.9 -4.5,10.6 L-3.0,5.9 L-2.4,12.0 L2.4,12.0 L3.0,5.9 L4.5,10.6 Q5.3,10.9 5.7,10.2 L3.9,4.3 Q3.5,2.9 2.3,2.9 Z"/><path d="M-2.45,11.5 L-0.25,11.5 L-0.25,21.0 L-2.2,21.0 Z M0.25,11.5 L2.45,11.5 L2.2,21.0 L0.25,21.0 Z"/></g>
<g transform="translate(64.00,384.80) scale(1.0)" fill="#111"><circle cx="0" cy="0" r="2.2"/><path d="M-2.3,2.9 Q-3.5,2.9 -3.9,4.3 L-5.7,10.2 Q-5.3,10.9 -4.5,10.6 L-3.0,5.9 L-2.4,12.0 L2.4,12.0 L3.0,5.9 L4.5,10.6 Q5.3,10.9 5.7,10.2 L3.9,4.3 Q3.5,2.9 2.3,2.9 Z"/><path d="M-2.45,11.5 L-0.25,11.5 L-0.25,21.0 L-2.2,21.0 Z M0.25,11.5 L2.45,11.5 L2.2,21.0 L0.25,21.0 Z"/></g>
<path d="M48.50,412.30 L57.50,412.30 L57.50,418.00 L60.15,418.00 L53.00,423.30 L45.85,418.00 L48.50,418.00 Z" fill="#9a9a9a"/>
<text x="52.90" y="430.30" font-size="6.3" text-anchor="middle" font-weight="normal" fill="#303030" color="#303030" textLength="41" lengthAdjust="spacingAndGlyphs" >FACS sorting &amp;</text>
<text x="53.00" y="438.20" font-size="6.3" text-anchor="middle" font-weight="normal" fill="#303030" color="#303030" textLength="86.3" lengthAdjust="spacingAndGlyphs" >low-input RNA-Seq (SmartSeq2)</text>
<text x="18.60" y="446.20" font-size="6.4" text-anchor="start" font-weight="normal" fill="#303030" color="#303030" textLength="36.6" lengthAdjust="spacingAndGlyphs" >CD45+CD3+</text>
<text x="65.10" y="446.20" font-size="6.4" text-anchor="start" font-weight="normal" fill="#303030" color="#303030" textLength="18.5" lengthAdjust="spacingAndGlyphs" >CD45+</text>
<text x="18.60" y="453.55" font-size="6.4" text-anchor="start" font-weight="normal" fill="#303030" color="#303030" textLength="40.2" lengthAdjust="spacingAndGlyphs" >CD45+CD19+</text>
<text x="65.10" y="453.55" font-size="6.4" text-anchor="start" font-weight="normal" fill="#303030" color="#303030" textLength="18.5" lengthAdjust="spacingAndGlyphs" >CD45−</text>
<text x="18.60" y="460.90" font-size="6.4" text-anchor="start" font-weight="normal" fill="#303030" color="#303030" textLength="40.2" lengthAdjust="spacingAndGlyphs" >CD45+CD14+</text>
<text x="65.10" y="460.90" font-size="6.4" text-anchor="start" font-weight="normal" fill="#303030" color="#303030" textLength="21.5" lengthAdjust="spacingAndGlyphs" >CD45int</text>
<text x="18.60" y="468.25" font-size="6.4" text-anchor="start" font-weight="normal" fill="#303030" color="#303030" textLength="28.5" lengthAdjust="spacingAndGlyphs" >CD45+Lin-</text>
<text x="65.10" y="468.25" font-size="6.4" text-anchor="start" font-weight="normal" fill="#303030" color="#303030" textLength="11" lengthAdjust="spacingAndGlyphs" >Live</text>
<text x="114.00" y="348.10" font-size="10.5" text-anchor="start" font-weight="bold" fill="#000" color="#000" >I</text>
<line x1="148.30" y1="354.50" x2="148.30" y2="444.30" stroke="#222" stroke-width="1"/>
<line x1="147.80" y1="444.30" x2="239.00" y2="444.30" stroke="#222" stroke-width="1"/>
<line x1="146.10" y1="373.90" x2="148.30" y2="373.90" stroke="#222" stroke-width="0.9"/>
<text x="144.50" y="375.90" font-size="6" text-anchor="end" font-weight="normal" fill="#303030" color="#303030" >20</text>
<line x1="146.10" y1="396.80" x2="148.30" y2="396.80" stroke="#222" stroke-width="0.9"/>
<text x="144.50" y="398.80" font-size="6" text-anchor="end" font-weight="normal" fill="#303030" color="#303030" >0</text>
<line x1="146.10" y1="419.60" x2="148.30" y2="419.60" stroke="#222" stroke-width="0.9"/>
<text x="144.50" y="421.60" font-size="6" text-anchor="end" font-weight="normal" fill="#303030" color="#303030" >−20</text>
<line x1="146.10" y1="442.50" x2="148.30" y2="442.50" stroke="#222" stroke-width="0.9"/>
<text x="144.50" y="444.50" font-size="6" text-anchor="end" font-weight="normal" fill="#303030" color="#303030" >−40</text>
<line x1="163.70" y1="444.30" x2="163.70" y2="446.50" stroke="#222" stroke-width="0.9"/>
<text x="163.70" y="455.30" font-size="6.2" text-anchor="middle" font-weight="normal" fill="#303030" color="#303030" >−20</text>
<line x1="186.60" y1="444.30" x2="186.60" y2="446.50" stroke="#222" stroke-width="0.9"/>
<text x="186.60" y="455.30" font-size="6.2" text-anchor="middle" font-weight="normal" fill="#303030" color="#303030" >0</text>
<line x1="209.40" y1="444.30" x2="209.40" y2="446.50" stroke="#222" stroke-width="0.9"/>
<text x="209.40" y="455.30" font-size="6.2" text-anchor="middle" font-weight="normal" fill="#303030" color="#303030" >20</text>
<line x1="232.30" y1="444.30" x2="232.30" y2="446.50" stroke="#222" stroke-width="0.9"/>
<text x="232.30" y="455.30" font-size="6.2" text-anchor="middle" font-weight="normal" fill="#303030" color="#303030" >40</text>
<text x="193.70" y="467.20" font-size="7.4" text-anchor="middle" font-weight="normal" fill="#303030" color="#303030" textLength="16.4" lengthAdjust="spacingAndGlyphs" >TSNE 1</text>
<text x="126.80" y="399.00" font-size="7.4" text-anchor="middle" font-weight="normal" fill="#303030" color="#303030" textLength="17.5" lengthAdjust="spacingAndGlyphs" transform="rotate(-90 126.80 399.00)" >TSNE 2</text>
<circle cx="155.26" cy="393.39" r="1.45" fill="#b697c9" stroke="#9478a8" stroke-width="0.4" fill-opacity="0.72" stroke-opacity="0.7"/>
<circle cx="158.12" cy="391.44" r="1.45" fill="#b697c9" stroke="#9478a8" stroke-width="0.4" fill-opacity="0.72" stroke-opacity="0.7"/>
<circle cx="155.60" cy="393.96" r="1.45" fill="#b697c9" stroke="#9478a8" stroke-width="0.4" fill-opacity="0.72" stroke-opacity="0.7"/>
<circle cx="153.64" cy="392.40" r="1.45" fill="#b697c9" stroke="#9478a8" stroke-width="0.4" fill-opacity="0.72" stroke-opacity="0.7"/>
<circle cx="156.34" cy="398.21" r="1.45" fill="#b697c9" stroke="#9478a8" stroke-width="0.4" fill-opacity="0.72" stroke-opacity="0.7"/>
<circle cx="153.09" cy="388.09" r="1.45" fill="#b697c9" stroke="#9478a8" stroke-width="0.4" fill-opacity="0.72" stroke-opacity="0.7"/>
<circle cx="156.72" cy="382.68" r="1.45" fill="#b697c9" stroke="#9478a8" stroke-width="0.4" fill-opacity="0.72" stroke-opacity="0.7"/>
<circle cx="156.48" cy="394.54" r="1.45" fill="#b697c9" stroke="#9478a8" stroke-width="0.4" fill-opacity="0.72" stroke-opacity="0.7"/>
<circle cx="155.72" cy="383.05" r="1.45" fill="#b697c9" stroke="#9478a8" stroke-width="0.4" fill-opacity="0.72" stroke-opacity="0.7"/>
<circle cx="153.67" cy="386.82" r="1.45" fill="#b697c9" stroke="#9478a8" stroke-width="0.4" fill-opacity="0.72" stroke-opacity="0.7"/>
<circle cx="152.70" cy="391.40" r="1.45" fill="#b697c9" stroke="#9478a8" stroke-width="0.4" fill-opacity="0.72" stroke-opacity="0.7"/>
<circle cx="155.19" cy="399.23" r="1.45" fill="#b697c9" stroke="#9478a8" stroke-width="0.4" fill-opacity="0.72" stroke-opacity="0.7"/>
<circle cx="155.67" cy="395.05" r="1.45" fill="#b697c9" stroke="#9478a8" stroke-width="0.4" fill-opacity="0.72" stroke-opacity="0.7"/>
<circle cx="155.55" cy="395.51" r="1.45" fill="#b697c9" stroke="#9478a8" stroke-width="0.4" fill-opacity="0.72" stroke-opacity="0.7"/>
<circle cx="155.29" cy="387.56" r="1.45" fill="#b697c9" stroke="#9478a8" stroke-width="0.4" fill-opacity="0.72" stroke-opacity="0.7"/>
<circle cx="157.62" cy="396.45" r="1.45" fill="#b697c9" stroke="#9478a8" stroke-width="0.4" fill-opacity="0.72" stroke-opacity="0.7"/>
<circle cx="154.43" cy="386.56" r="1.45" fill="#b697c9" stroke="#9478a8" stroke-width="0.4" fill-opacity="0.72" stroke-opacity="0.7"/>
<circle cx="154.27" cy="383.27" r="1.45" fill="#b697c9" stroke="#9478a8" stroke-width="0.4" fill-opacity="0.72" stroke-opacity="0.7"/>
<circle cx="157.17" cy="390.09" r="1.45" fill="#b697c9" stroke="#9478a8" stroke-width="0.4" fill-opacity="0.72" stroke-opacity="0.7"/>
<circle cx="157.65" cy="389.80" r="1.45" fill="#b697c9" stroke="#9478a8" stroke-width="0.4" fill-opacity="0.72" stroke-opacity="0.7"/>
<circle cx="158.04" cy="391.53" r="1.45" fill="#b697c9" stroke="#9478a8" stroke-width="0.4" fill-opacity="0.72" stroke-opacity="0.7"/>
<circle cx="158.47" cy="390.03" r="1.45" fill="#b697c9" stroke="#9478a8" stroke-width="0.4" fill-opacity="0.72" stroke-opacity="0.7"/>
<circle cx="152.96" cy="394.83" r="1.45" fill="#b697c9" stroke="#9478a8" stroke-width="0.4" fill-opacity="0.72" stroke-opacity="0.7"/>
<circle cx="157.24" cy="387.39" r="1.45" fill="#b697c9" stroke="#9478a8" stroke-width="0.4" fill-opacity="0.72" stroke-opacity="0.7"/>
<circle cx="153.04" cy="388.69" r="1.45" fill="#b697c9" stroke="#9478a8" stroke-width="0.4" fill-opacity="0.72" stroke-opacity="0.7"/>
<circle cx="153.23" cy="386.91" r="1.45" fill="#b697c9" stroke="#9478a8" stroke-width="0.4" fill-opacity="0.72" stroke-opacity="0.7"/>
<circle cx="157.35" cy="385.49" r="1.45" fill="#b697c9" stroke="#9478a8" stroke-width="0.4" fill-opacity="0.72" stroke-opacity="0.7"/>
<circle cx="155.91" cy="391.06" r="1.45" fill="#b697c9" stroke="#9478a8" stroke-width="0.4" fill-opacity="0.72" stroke-opacity="0.7"/>
<circle cx="153.67" cy="396.94" r="1.45" fill="#b697c9" stroke="#9478a8" stroke-width="0.4" fill-opacity="0.72" stroke-opacity="0.7"/>
<circle cx="153.31" cy="395.12" r="1.45" fill="#b697c9" stroke="#9478a8" stroke-width="0.4" fill-opacity="0.72" stroke-opacity="0.7"/>
<circle cx="153.22" cy="390.51" r="1.45" fill="#b697c9" stroke="#9478a8" stroke-width="0.4" fill-opacity="0.72" stroke-opacity="0.7"/>
<circle cx="153.81" cy="387.39" r="1.45" fill="#b697c9" stroke="#9478a8" stroke-width="0.4" fill-opacity="0.72" stroke-opacity="0.7"/>
<circle cx="157.78" cy="412.32" r="1.45" fill="#b697c9" stroke="#9478a8" stroke-width="0.4" fill-opacity="0.72" stroke-opacity="0.7"/>
<circle cx="156.41" cy="405.22" r="1.45" fill="#b697c9" stroke="#9478a8" stroke-width="0.4" fill-opacity="0.72" stroke-opacity="0.7"/>
<circle cx="165.85" cy="408.80" r="1.45" fill="#b697c9" stroke="#9478a8" stroke-width="0.4" fill-opacity="0.72" stroke-opacity="0.7"/>
<circle cx="156.44" cy="403.25" r="1.45" fill="#b697c9" stroke="#9478a8" stroke-width="0.4" fill-opacity="0.72" stroke-opacity="0.7"/>
<circle cx="164.65" cy="404.27" r="1.45" fill="#b697c9" stroke="#9478a8" stroke-width="0.4" fill-opacity="0.72" stroke-opacity="0.7"/>
<circle cx="157.66" cy="400.58" r="1.45" fill="#b697c9" stroke="#9478a8" stroke-width="0.4" fill-opacity="0.72" stroke-opacity="0.7"/>
<circle cx="154.64" cy="407.95" r="1.45" fill="#b697c9" stroke="#9478a8" stroke-width="0.4" fill-opacity="0.72" stroke-opacity="0.7"/>
<circle cx="156.88" cy="408.22" r="1.45" fill="#b697c9" stroke="#9478a8" stroke-width="0.4" fill-opacity="0.72" stroke-opacity="0.7"/>
<circle cx="158.77" cy="406.07" r="1.45" fill="#b697c9" stroke="#9478a8" stroke-width="0.4" fill-opacity="0.72" stroke-opacity="0.7"/>
<circle cx="167.39" cy="406.51" r="1.45" fill="#b697c9" stroke="#9478a8" stroke-width="0.4" fill-opacity="0.72" stroke-opacity="0.7"/>
<circle cx="161.74" cy="412.05" r="1.45" fill="#b697c9" stroke="#9478a8" stroke-width="0.4" fill-opacity="0.72" stroke-opacity="0.7"/>
<circle cx="156.00" cy="401.75" r="1.45" fill="#b697c9" stroke="#9478a8" stroke-width="0.4" fill-opacity="0.72" stroke-opacity="0.7"/>
<circle cx="156.98" cy="402.26" r="1.45" fill="#b697c9" stroke="#9478a8" stroke-width="0.4" fill-opacity="0.72" stroke-opacity="0.7"/>
<circle cx="166.26" cy="408.25" r="1.45" fill="#b697c9" stroke="#9478a8" stroke-width="0.4" fill-opacity="0.72" stroke-opacity="0.7"/>
<circle cx="159.50" cy="401.02" r="1.45" fill="#b697c9" stroke="#9478a8" stroke-width="0.4" fill-opacity="0.72" stroke-opacity="0.7"/>
<circle cx="156.81" cy="409.71" r="1.45" fill="#b697c9" stroke="#9478a8" stroke-width="0.4" fill-opacity="0.72" stroke-opacity="0.7"/>
<circle cx="157.08" cy="411.43" r="1.45" fill="#b697c9" stroke="#9478a8" stroke-width="0.4" fill-opacity="0.72" stroke-opacity="0.7"/>
<circle cx="162.07" cy="403.76" r="1.45" fill="#b697c9" stroke="#9478a8" stroke-width="0.4" fill-opacity="0.72" stroke-opacity="0.7"/>
<circle cx="155.89" cy="409.94" r="1.45" fill="#b697c9" stroke="#9478a8" stroke-width="0.4" fill-opacity="0.72" stroke-opacity="0.7"/>
<circle cx="161.52" cy="411.85" r="1.45" fill="#b697c9" stroke="#9478a8" stroke-width="0.4" fill-opacity="0.72" stroke-opacity="0.7"/>
<circle cx="162.33" cy="403.57" r="1.45" fill="#b697c9" stroke="#9478a8" stroke-width="0.4" fill-opacity="0.72" stroke-opacity="0.7"/>
<circle cx="159.85" cy="400.39" r="1.45" fill="#b697c9" stroke="#9478a8" stroke-width="0.4" fill-opacity="0.72" stroke-opacity="0.7"/>
<circle cx="155.90" cy="404.85" r="1.45" fill="#b697c9" stroke="#9478a8" stroke-width="0.4" fill-opacity="0.72" stroke-opacity="0.7"/>
<circle cx="161.71" cy="401.42" r="1.45" fill="#b697c9" stroke="#9478a8" stroke-width="0.4" fill-opacity="0.72" stroke-opacity="0.7"/>
<circle cx="158.63" cy="412.41" r="1.45" fill="#b697c9" stroke="#9478a8" stroke-width="0.4" fill-opacity="0.72" stroke-opacity="0.7"/>
<circle cx="163.46" cy="407.97" r="1.45" fill="#b697c9" stroke="#9478a8" stroke-width="0.4" fill-opacity="0.72" stroke-opacity="0.7"/>
<circle cx="153.63" cy="408.72" r="1.45" fill="#b697c9" stroke="#9478a8" stroke-width="0.4" fill-opacity="0.72" stroke-opacity="0.7"/>
<circle cx="160.39" cy="410.09" r="1.45" fill="#b697c9" stroke="#9478a8" stroke-width="0.4" fill-opacity="0.72" stroke-opacity="0.7"/>
<circle cx="154.42" cy="407.42" r="1.45" fill="#b697c9" stroke="#9478a8" stroke-width="0.4" fill-opacity="0.72" stroke-opacity="0.7"/>
<circle cx="164.13" cy="412.54" r="1.45" fill="#b697c9" stroke="#9478a8" stroke-width="0.4" fill-opacity="0.72" stroke-opacity="0.7"/>
<circle cx="164.13" cy="409.70" r="1.45" fill="#b697c9" stroke="#9478a8" stroke-width="0.4" fill-opacity="0.72" stroke-opacity="0.7"/>
<circle cx="158.48" cy="409.43" r="1.45" fill="#b697c9" stroke="#9478a8" stroke-width="0.4" fill-opacity="0.72" stroke-opacity="0.7"/>
<circle cx="159.43" cy="410.95" r="1.45" fill="#b697c9" stroke="#9478a8" stroke-width="0.4" fill-opacity="0.72" stroke-opacity="0.7"/>
<circle cx="165.98" cy="407.80" r="1.45" fill="#b697c9" stroke="#9478a8" stroke-width="0.4" fill-opacity="0.72" stroke-opacity="0.7"/>
<circle cx="162.48" cy="405.05" r="1.45" fill="#b697c9" stroke="#9478a8" stroke-width="0.4" fill-opacity="0.72" stroke-opacity="0.7"/>
<circle cx="161.86" cy="408.33" r="1.45" fill="#b697c9" stroke="#9478a8" stroke-width="0.4" fill-opacity="0.72" stroke-opacity="0.7"/>
<circle cx="154.49" cy="408.77" r="1.45" fill="#b697c9" stroke="#9478a8" stroke-width="0.4" fill-opacity="0.72" stroke-opacity="0.7"/>
<circle cx="164.00" cy="405.14" r="1.45" fill="#b697c9" stroke="#9478a8" stroke-width="0.4" fill-opacity="0.72" stroke-opacity="0.7"/>
<circle cx="154.70" cy="396.32" r="1.45" fill="#d5978a" stroke="#b87a6e" stroke-width="0.4" fill-opacity="0.72" stroke-opacity="0.7"/>
<circle cx="153.82" cy="397.34" r="1.45" fill="#d5978a" stroke="#b87a6e" stroke-width="0.4" fill-opacity="0.72" stroke-opacity="0.7"/>
<circle cx="152.76" cy="396.99" r="1.45" fill="#d5978a" stroke="#b87a6e" stroke-width="0.4" fill-opacity="0.72" stroke-opacity="0.7"/>
<circle cx="152.60" cy="396.40" r="1.45" fill="#d5978a" stroke="#b87a6e" stroke-width="0.4" fill-opacity="0.72" stroke-opacity="0.7"/>
<circle cx="164.13" cy="405.16" r="1.45" fill="#d5978a" stroke="#b87a6e" stroke-width="0.4" fill-opacity="0.72" stroke-opacity="0.7"/>
<circle cx="165.53" cy="406.49" r="1.45" fill="#d5978a" stroke="#b87a6e" stroke-width="0.4" fill-opacity="0.72" stroke-opacity="0.7"/>
<circle cx="164.99" cy="408.59" r="1.45" fill="#d5978a" stroke="#b87a6e" stroke-width="0.4" fill-opacity="0.72" stroke-opacity="0.7"/>
<circle cx="162.96" cy="407.39" r="1.45" fill="#d5978a" stroke="#b87a6e" stroke-width="0.4" fill-opacity="0.72" stroke-opacity="0.7"/>
<circle cx="162.33" cy="404.86" r="1.45" fill="#d5978a" stroke="#b87a6e" stroke-width="0.4" fill-opacity="0.72" stroke-opacity="0.7"/>
<circle cx="166.88" cy="407.30" r="1.45" fill="#d5978a" stroke="#b87a6e" stroke-width="0.4" fill-opacity="0.72" stroke-opacity="0.7"/>
<circle cx="163.87" cy="408.45" r="1.45" fill="#d5978a" stroke="#b87a6e" stroke-width="0.4" fill-opacity="0.72" stroke-opacity="0.7"/>
<circle cx="163.13" cy="407.32" r="1.45" fill="#d5978a" stroke="#b87a6e" stroke-width="0.4" fill-opacity="0.72" stroke-opacity="0.7"/>
<circle cx="175.34" cy="364.73" r="1.45" fill="#72b85a" stroke="#4e8e3c" stroke-width="0.4" fill-opacity="0.72" stroke-opacity="0.7"/>
<circle cx="187.80" cy="363.97" r="1.45" fill="#72b85a" stroke="#4e8e3c" stroke-width="0.4" fill-opacity="0.72" stroke-opacity="0.7"/>
<circle cx="182.37" cy="362.86" r="1.45" fill="#72b85a" stroke="#4e8e3c" stroke-width="0.4" fill-opacity="0.72" stroke-opacity="0.7"/>
<circle cx="174.20" cy="365.79" r="1.45" fill="#72b85a" stroke="#4e8e3c" stroke-width="0.4" fill-opacity="0.72" stroke-opacity="0.7"/>
<circle cx="187.01" cy="371.52" r="1.45" fill="#72b85a" stroke="#4e8e3c" stroke-width="0.4" fill-opacity="0.72" stroke-opacity="0.7"/>
<circle cx="184.71" cy="373.17" r="1.45" fill="#72b85a" stroke="#4e8e3c" stroke-width="0.4" fill-opacity="0.72" stroke-opacity="0.7"/>
<circle cx="176.77" cy="360.47" r="1.45" fill="#72b85a" stroke="#4e8e3c" stroke-width="0.4" fill-opacity="0.72" stroke-opacity="0.7"/>
<circle cx="179.95" cy="362.19" r="1.45" fill="#72b85a" stroke="#4e8e3c" stroke-width="0.4" fill-opacity="0.72" stroke-opacity="0.7"/>
<circle cx="175.63" cy="364.45" r="1.45" fill="#72b85a" stroke="#4e8e3c" stroke-width="0.4" fill-opacity="0.72" stroke-opacity="0.7"/>
<circle cx="183.15" cy="365.75" r="1.45" fill="#72b85a" stroke="#4e8e3c" stroke-width="0.4" fill-opacity="0.72" stroke-opacity="0.7"/>
<circle cx="177.48" cy="371.37" r="1.45" fill="#72b85a" stroke="#4e8e3c" stroke-width="0.4" fill-opacity="0.72" stroke-opacity="0.7"/>
<circle cx="189.66" cy="365.08" r="1.45" fill="#72b85a" stroke="#4e8e3c" stroke-width="0.4" fill-opacity="0.72" stroke-opacity="0.7"/>
<circle cx="184.66" cy="367.00" r="1.45" fill="#72b85a" stroke="#4e8e3c" stroke-width="0.4" fill-opacity="0.72" stroke-opacity="0.7"/>
<circle cx="177.36" cy="370.59" r="1.45" fill="#72b85a" stroke="#4e8e3c" stroke-width="0.4" fill-opacity="0.72" stroke-opacity="0.7"/>
<circle cx="180.02" cy="358.12" r="1.45" fill="#72b85a" stroke="#4e8e3c" stroke-width="0.4" fill-opacity="0.72" stroke-opacity="0.7"/>
<circle cx="186.87" cy="361.58" r="1.45" fill="#72b85a" stroke="#4e8e3c" stroke-width="0.4" fill-opacity="0.72" stroke-opacity="0.7"/>
<circle cx="183.21" cy="364.98" r="1.45" fill="#72b85a" stroke="#4e8e3c" stroke-width="0.4" fill-opacity="0.72" stroke-opacity="0.7"/>
<circle cx="183.22" cy="368.37" r="1.45" fill="#72b85a" stroke="#4e8e3c" stroke-width="0.4" fill-opacity="0.72" stroke-opacity="0.7"/>
<circle cx="184.22" cy="360.96" r="1.45" fill="#72b85a" stroke="#4e8e3c" stroke-width="0.4" fill-opacity="0.72" stroke-opacity="0.7"/>
<circle cx="180.40" cy="360.62" r="1.45" fill="#72b85a" stroke="#4e8e3c" stroke-width="0.4" fill-opacity="0.72" stroke-opacity="0.7"/>
<circle cx="171.91" cy="365.40" r="1.45" fill="#72b85a" stroke="#4e8e3c" stroke-width="0.4" fill-opacity="0.72" stroke-opacity="0.7"/>
<circle cx="184.76" cy="360.63" r="1.45" fill="#72b85a" stroke="#4e8e3c" stroke-width="0.4" fill-opacity="0.72" stroke-opacity="0.7"/>
<circle cx="176.69" cy="363.34" r="1.45" fill="#72b85a" stroke="#4e8e3c" stroke-width="0.4" fill-opacity="0.72" stroke-opacity="0.7"/>
<circle cx="184.45" cy="366.18" r="1.45" fill="#72b85a" stroke="#4e8e3c" stroke-width="0.4" fill-opacity="0.72" stroke-opacity="0.7"/>
<circle cx="182.94" cy="370.02" r="1.45" fill="#72b85a" stroke="#4e8e3c" stroke-width="0.4" fill-opacity="0.72" stroke-opacity="0.7"/>
<circle cx="178.90" cy="370.60" r="1.45" fill="#72b85a" stroke="#4e8e3c" stroke-width="0.4" fill-opacity="0.72" stroke-opacity="0.7"/>
<circle cx="188.75" cy="369.47" r="1.45" fill="#72b85a" stroke="#4e8e3c" stroke-width="0.4" fill-opacity="0.72" stroke-opacity="0.7"/>
<circle cx="174.09" cy="365.09" r="1.45" fill="#72b85a" stroke="#4e8e3c" stroke-width="0.4" fill-opacity="0.72" stroke-opacity="0.7"/>
<circle cx="183.14" cy="372.52" r="1.45" fill="#72b85a" stroke="#4e8e3c" stroke-width="0.4" fill-opacity="0.72" stroke-opacity="0.7"/>
<circle cx="178.60" cy="366.97" r="1.45" fill="#72b85a" stroke="#4e8e3c" stroke-width="0.4" fill-opacity="0.72" stroke-opacity="0.7"/>
<circle cx="187.78" cy="370.68" r="1.45" fill="#72b85a" stroke="#4e8e3c" stroke-width="0.4" fill-opacity="0.72" stroke-opacity="0.7"/>
<circle cx="188.97" cy="365.26" r="1.45" fill="#72b85a" stroke="#4e8e3c" stroke-width="0.4" fill-opacity="0.72" stroke-opacity="0.7"/>
<circle cx="183.61" cy="361.05" r="1.45" fill="#72b85a" stroke="#4e8e3c" stroke-width="0.4" fill-opacity="0.72" stroke-opacity="0.7"/>
<circle cx="184.90" cy="371.03" r="1.45" fill="#72b85a" stroke="#4e8e3c" stroke-width="0.4" fill-opacity="0.72" stroke-opacity="0.7"/>
<circle cx="183.44" cy="369.39" r="1.45" fill="#72b85a" stroke="#4e8e3c" stroke-width="0.4" fill-opacity="0.72" stroke-opacity="0.7"/>
<circle cx="175.61" cy="372.36" r="1.45" fill="#72b85a" stroke="#4e8e3c" stroke-width="0.4" fill-opacity="0.72" stroke-opacity="0.7"/>
<circle cx="181.53" cy="370.58" r="1.45" fill="#72b85a" stroke="#4e8e3c" stroke-width="0.4" fill-opacity="0.72" stroke-opacity="0.7"/>
<circle cx="177.57" cy="372.52" r="1.45" fill="#72b85a" stroke="#4e8e3c" stroke-width="0.4" fill-opacity="0.72" stroke-opacity="0.7"/>
<circle cx="187.35" cy="363.39" r="1.45" fill="#72b85a" stroke="#4e8e3c" stroke-width="0.4" fill-opacity="0.72" stroke-opacity="0.7"/>
<circle cx="173.23" cy="364.89" r="1.45" fill="#72b85a" stroke="#4e8e3c" stroke-width="0.4" fill-opacity="0.72" stroke-opacity="0.7"/>
<circle cx="181.77" cy="370.21" r="1.45" fill="#72b85a" stroke="#4e8e3c" stroke-width="0.4" fill-opacity="0.72" stroke-opacity="0.7"/>
<circle cx="180.62" cy="358.18" r="1.45" fill="#72b85a" stroke="#4e8e3c" stroke-width="0.4" fill-opacity="0.72" stroke-opacity="0.7"/>
<circle cx="186.33" cy="360.53" r="1.45" fill="#72b85a" stroke="#4e8e3c" stroke-width="0.4" fill-opacity="0.72" stroke-opacity="0.7"/>
<circle cx="177.84" cy="370.53" r="1.45" fill="#72b85a" stroke="#4e8e3c" stroke-width="0.4" fill-opacity="0.72" stroke-opacity="0.7"/>
<circle cx="181.15" cy="369.49" r="1.45" fill="#72b85a" stroke="#4e8e3c" stroke-width="0.4" fill-opacity="0.72" stroke-opacity="0.7"/>
<circle cx="187.06" cy="368.93" r="1.45" fill="#72b85a" stroke="#4e8e3c" stroke-width="0.4" fill-opacity="0.72" stroke-opacity="0.7"/>
<circle cx="188.99" cy="365.73" r="1.45" fill="#72b85a" stroke="#4e8e3c" stroke-width="0.4" fill-opacity="0.72" stroke-opacity="0.7"/>
<circle cx="175.76" cy="366.28" r="1.45" fill="#72b85a" stroke="#4e8e3c" stroke-width="0.4" fill-opacity="0.72" stroke-opacity="0.7"/>
<circle cx="177.02" cy="369.57" r="1.45" fill="#72b85a" stroke="#4e8e3c" stroke-width="0.4" fill-opacity="0.72" stroke-opacity="0.7"/>
<circle cx="183.39" cy="366.22" r="1.45" fill="#72b85a" stroke="#4e8e3c" stroke-width="0.4" fill-opacity="0.72" stroke-opacity="0.7"/>
<circle cx="187.13" cy="366.83" r="1.45" fill="#72b85a" stroke="#4e8e3c" stroke-width="0.4" fill-opacity="0.72" stroke-opacity="0.7"/>
<circle cx="177.41" cy="363.92" r="1.45" fill="#72b85a" stroke="#4e8e3c" stroke-width="0.4" fill-opacity="0.72" stroke-opacity="0.7"/>
<circle cx="175.52" cy="371.56" r="1.45" fill="#72b85a" stroke="#4e8e3c" stroke-width="0.4" fill-opacity="0.72" stroke-opacity="0.7"/>
<circle cx="189.41" cy="366.24" r="1.45" fill="#72b85a" stroke="#4e8e3c" stroke-width="0.4" fill-opacity="0.72" stroke-opacity="0.7"/>
<circle cx="182.18" cy="360.98" r="1.45" fill="#72b85a" stroke="#4e8e3c" stroke-width="0.4" fill-opacity="0.72" stroke-opacity="0.7"/>
<circle cx="181.51" cy="365.90" r="1.45" fill="#72b85a" stroke="#4e8e3c" stroke-width="0.4" fill-opacity="0.72" stroke-opacity="0.7"/>
<circle cx="182.77" cy="358.17" r="1.45" fill="#72b85a" stroke="#4e8e3c" stroke-width="0.4" fill-opacity="0.72" stroke-opacity="0.7"/>
<circle cx="189.43" cy="366.11" r="1.45" fill="#72b85a" stroke="#4e8e3c" stroke-width="0.4" fill-opacity="0.72" stroke-opacity="0.7"/>
<circle cx="179.03" cy="370.75" r="1.45" fill="#72b85a" stroke="#4e8e3c" stroke-width="0.4" fill-opacity="0.72" stroke-opacity="0.7"/>
<circle cx="182.00" cy="365.70" r="1.45" fill="#72b85a" stroke="#4e8e3c" stroke-width="0.4" fill-opacity="0.72" stroke-opacity="0.7"/>
<circle cx="180.29" cy="373.87" r="1.45" fill="#72b85a" stroke="#4e8e3c" stroke-width="0.4" fill-opacity="0.72" stroke-opacity="0.7"/>
<circle cx="179.46" cy="378.38" r="1.45" fill="#72b85a" stroke="#4e8e3c" stroke-width="0.4" fill-opacity="0.72" stroke-opacity="0.7"/>
<circle cx="177.99" cy="379.15" r="1.45" fill="#72b85a" stroke="#4e8e3c" stroke-width="0.4" fill-opacity="0.72" stroke-opacity="0.7"/>
<circle cx="177.21" cy="378.64" r="1.45" fill="#72b85a" stroke="#4e8e3c" stroke-width="0.4" fill-opacity="0.72" stroke-opacity="0.7"/>
<circle cx="179.12" cy="377.13" r="1.45" fill="#72b85a" stroke="#4e8e3c" stroke-width="0.4" fill-opacity="0.72" stroke-opacity="0.7"/>
<circle cx="177.56" cy="381.03" r="1.45" fill="#72b85a" stroke="#4e8e3c" stroke-width="0.4" fill-opacity="0.72" stroke-opacity="0.7"/>
<circle cx="177.58" cy="375.96" r="1.45" fill="#72b85a" stroke="#4e8e3c" stroke-width="0.4" fill-opacity="0.72" stroke-opacity="0.7"/>
<circle cx="180.27" cy="377.19" r="1.45" fill="#72b85a" stroke="#4e8e3c" stroke-width="0.4" fill-opacity="0.72" stroke-opacity="0.7"/>
<circle cx="178.46" cy="381.05" r="1.45" fill="#72b85a" stroke="#4e8e3c" stroke-width="0.4" fill-opacity="0.72" stroke-opacity="0.7"/>
<circle cx="177.09" cy="382.49" r="1.45" fill="#72b85a" stroke="#4e8e3c" stroke-width="0.4" fill-opacity="0.72" stroke-opacity="0.7"/>
<circle cx="177.19" cy="379.64" r="1.45" fill="#72b85a" stroke="#4e8e3c" stroke-width="0.4" fill-opacity="0.72" stroke-opacity="0.7"/>
<circle cx="177.89" cy="375.58" r="1.45" fill="#72b85a" stroke="#4e8e3c" stroke-width="0.4" fill-opacity="0.72" stroke-opacity="0.7"/>
<circle cx="179.42" cy="378.68" r="1.45" fill="#72b85a" stroke="#4e8e3c" stroke-width="0.4" fill-opacity="0.72" stroke-opacity="0.7"/>
<circle cx="178.57" cy="378.38" r="1.45" fill="#72b85a" stroke="#4e8e3c" stroke-width="0.4" fill-opacity="0.72" stroke-opacity="0.7"/>
<circle cx="179.41" cy="375.09" r="1.45" fill="#72b85a" stroke="#4e8e3c" stroke-width="0.4" fill-opacity="0.72" stroke-opacity="0.7"/>
<circle cx="177.63" cy="381.20" r="1.45" fill="#72b85a" stroke="#4e8e3c" stroke-width="0.4" fill-opacity="0.72" stroke-opacity="0.7"/>
<circle cx="183.46" cy="388.44" r="1.45" fill="#d5978a" stroke="#b87a6e" stroke-width="0.4" fill-opacity="0.72" stroke-opacity="0.7"/>
<circle cx="185.48" cy="388.97" r="1.45" fill="#d5978a" stroke="#b87a6e" stroke-width="0.4" fill-opacity="0.72" stroke-opacity="0.7"/>
<circle cx="185.53" cy="386.52" r="1.45" fill="#d5978a" stroke="#b87a6e" stroke-width="0.4" fill-opacity="0.72" stroke-opacity="0.7"/>
<circle cx="184.43" cy="390.26" r="1.45" fill="#d5978a" stroke="#b87a6e" stroke-width="0.4" fill-opacity="0.72" stroke-opacity="0.7"/>
<circle cx="185.96" cy="387.06" r="1.45" fill="#d5978a" stroke="#b87a6e" stroke-width="0.4" fill-opacity="0.72" stroke-opacity="0.7"/>
<circle cx="180.40" cy="390.99" r="1.45" fill="#d5978a" stroke="#b87a6e" stroke-width="0.4" fill-opacity="0.72" stroke-opacity="0.7"/>
<circle cx="179.68" cy="389.72" r="1.45" fill="#d5978a" stroke="#b87a6e" stroke-width="0.4" fill-opacity="0.72" stroke-opacity="0.7"/>
<circle cx="179.87" cy="385.64" r="1.45" fill="#d5978a" stroke="#b87a6e" stroke-width="0.4" fill-opacity="0.72" stroke-opacity="0.7"/>
<circle cx="185.30" cy="387.74" r="1.45" fill="#d5978a" stroke="#b87a6e" stroke-width="0.4" fill-opacity="0.72" stroke-opacity="0.7"/>
<circle cx="184.90" cy="385.83" r="1.45" fill="#d5978a" stroke="#b87a6e" stroke-width="0.4" fill-opacity="0.72" stroke-opacity="0.7"/>
<circle cx="181.23" cy="389.45" r="1.45" fill="#d5978a" stroke="#b87a6e" stroke-width="0.4" fill-opacity="0.72" stroke-opacity="0.7"/>
<circle cx="183.88" cy="390.91" r="1.45" fill="#d5978a" stroke="#b87a6e" stroke-width="0.4" fill-opacity="0.72" stroke-opacity="0.7"/>
<circle cx="182.20" cy="389.92" r="1.45" fill="#d5978a" stroke="#b87a6e" stroke-width="0.4" fill-opacity="0.72" stroke-opacity="0.7"/>
<circle cx="182.18" cy="389.45" r="1.45" fill="#d5978a" stroke="#b87a6e" stroke-width="0.4" fill-opacity="0.72" stroke-opacity="0.7"/>
<circle cx="200.44" cy="384.49" r="1.45" fill="#7c9ed6" stroke="#5c80c0" stroke-width="0.4" fill-opacity="0.72" stroke-opacity="0.7"/>
<circle cx="200.71" cy="382.15" r="1.45" fill="#7c9ed6" stroke="#5c80c0" stroke-width="0.4" fill-opacity="0.72" stroke-opacity="0.7"/>
<circle cx="194.50" cy="382.51" r="1.45" fill="#7c9ed6" stroke="#5c80c0" stroke-width="0.4" fill-opacity="0.72" stroke-opacity="0.7"/>
<circle cx="198.99" cy="386.09" r="1.45" fill="#7c9ed6" stroke="#5c80c0" stroke-width="0.4" fill-opacity="0.72" stroke-opacity="0.7"/>
<circle cx="196.80" cy="384.19" r="1.45" fill="#7c9ed6" stroke="#5c80c0" stroke-width="0.4" fill-opacity="0.72" stroke-opacity="0.7"/>
<circle cx="199.85" cy="383.95" r="1.45" fill="#7c9ed6" stroke="#5c80c0" stroke-width="0.4" fill-opacity="0.72" stroke-opacity="0.7"/>
<circle cx="201.23" cy="381.30" r="1.45" fill="#7c9ed6" stroke="#5c80c0" stroke-width="0.4" fill-opacity="0.72" stroke-opacity="0.7"/>
<circle cx="202.85" cy="386.59" r="1.45" fill="#7c9ed6" stroke="#5c80c0" stroke-width="0.4" fill-opacity="0.72" stroke-opacity="0.7"/>
<circle cx="194.45" cy="384.11" r="1.45" fill="#7c9ed6" stroke="#5c80c0" stroke-width="0.4" fill-opacity="0.72" stroke-opacity="0.7"/>
<circle cx="203.47" cy="383.80" r="1.45" fill="#7c9ed6" stroke="#5c80c0" stroke-width="0.4" fill-opacity="0.72" stroke-opacity="0.7"/>
<circle cx="194.67" cy="382.27" r="1.45" fill="#7c9ed6" stroke="#5c80c0" stroke-width="0.4" fill-opacity="0.72" stroke-opacity="0.7"/>
<circle cx="199.80" cy="381.31" r="1.45" fill="#7c9ed6" stroke="#5c80c0" stroke-width="0.4" fill-opacity="0.72" stroke-opacity="0.7"/>
<circle cx="205.96" cy="386.32" r="1.45" fill="#7c9ed6" stroke="#5c80c0" stroke-width="0.4" fill-opacity="0.72" stroke-opacity="0.7"/>
<circle cx="202.91" cy="386.70" r="1.45" fill="#7c9ed6" stroke="#5c80c0" stroke-width="0.4" fill-opacity="0.72" stroke-opacity="0.7"/>
<circle cx="201.69" cy="383.79" r="1.45" fill="#7c9ed6" stroke="#5c80c0" stroke-width="0.4" fill-opacity="0.72" stroke-opacity="0.7"/>
<circle cx="201.21" cy="384.43" r="1.45" fill="#7c9ed6" stroke="#5c80c0" stroke-width="0.4" fill-opacity="0.72" stroke-opacity="0.7"/>
<circle cx="195.69" cy="387.02" r="1.45" fill="#7c9ed6" stroke="#5c80c0" stroke-width="0.4" fill-opacity="0.72" stroke-opacity="0.7"/>
<circle cx="203.55" cy="386.17" r="1.45" fill="#7c9ed6" stroke="#5c80c0" stroke-width="0.4" fill-opacity="0.72" stroke-opacity="0.7"/>
<circle cx="204.69" cy="383.80" r="1.45" fill="#7c9ed6" stroke="#5c80c0" stroke-width="0.4" fill-opacity="0.72" stroke-opacity="0.7"/>
<circle cx="202.75" cy="386.10" r="1.45" fill="#7c9ed6" stroke="#5c80c0" stroke-width="0.4" fill-opacity="0.72" stroke-opacity="0.7"/>
<circle cx="203.89" cy="383.80" r="1.45" fill="#7c9ed6" stroke="#5c80c0" stroke-width="0.4" fill-opacity="0.72" stroke-opacity="0.7"/>
<circle cx="203.20" cy="381.66" r="1.45" fill="#7c9ed6" stroke="#5c80c0" stroke-width="0.4" fill-opacity="0.72" stroke-opacity="0.7"/>
<circle cx="197.04" cy="384.20" r="1.45" fill="#7c9ed6" stroke="#5c80c0" stroke-width="0.4" fill-opacity="0.72" stroke-opacity="0.7"/>
<circle cx="201.84" cy="385.19" r="1.45" fill="#7c9ed6" stroke="#5c80c0" stroke-width="0.4" fill-opacity="0.72" stroke-opacity="0.7"/>
<circle cx="202.29" cy="383.37" r="1.45" fill="#7c9ed6" stroke="#5c80c0" stroke-width="0.4" fill-opacity="0.72" stroke-opacity="0.7"/>
<circle cx="202.18" cy="384.84" r="1.45" fill="#7c9ed6" stroke="#5c80c0" stroke-width="0.4" fill-opacity="0.72" stroke-opacity="0.7"/>
<circle cx="200.13" cy="383.70" r="1.45" fill="#7c9ed6" stroke="#5c80c0" stroke-width="0.4" fill-opacity="0.72" stroke-opacity="0.7"/>
<circle cx="202.85" cy="386.07" r="1.45" fill="#7c9ed6" stroke="#5c80c0" stroke-width="0.4" fill-opacity="0.72" stroke-opacity="0.7"/>
<circle cx="201.47" cy="385.92" r="1.45" fill="#7c9ed6" stroke="#5c80c0" stroke-width="0.4" fill-opacity="0.72" stroke-opacity="0.7"/>
<circle cx="195.66" cy="383.77" r="1.45" fill="#7c9ed6" stroke="#5c80c0" stroke-width="0.4" fill-opacity="0.72" stroke-opacity="0.7"/>
<circle cx="197.59" cy="381.84" r="1.45" fill="#7c9ed6" stroke="#5c80c0" stroke-width="0.4" fill-opacity="0.72" stroke-opacity="0.7"/>
<circle cx="195.57" cy="386.98" r="1.45" fill="#7c9ed6" stroke="#5c80c0" stroke-width="0.4" fill-opacity="0.72" stroke-opacity="0.7"/>
<circle cx="200.91" cy="394.09" r="1.45" fill="#7c9ed6" stroke="#5c80c0" stroke-width="0.4" fill-opacity="0.72" stroke-opacity="0.7"/>
<circle cx="203.48" cy="394.81" r="1.45" fill="#7c9ed6" stroke="#5c80c0" stroke-width="0.4" fill-opacity="0.72" stroke-opacity="0.7"/>
<circle cx="201.20" cy="397.10" r="1.45" fill="#7c9ed6" stroke="#5c80c0" stroke-width="0.4" fill-opacity="0.72" stroke-opacity="0.7"/>
<circle cx="198.50" cy="393.66" r="1.45" fill="#7c9ed6" stroke="#5c80c0" stroke-width="0.4" fill-opacity="0.72" stroke-opacity="0.7"/>
<circle cx="198.56" cy="393.95" r="1.45" fill="#7c9ed6" stroke="#5c80c0" stroke-width="0.4" fill-opacity="0.72" stroke-opacity="0.7"/>
<circle cx="201.29" cy="388.72" r="1.45" fill="#7c9ed6" stroke="#5c80c0" stroke-width="0.4" fill-opacity="0.72" stroke-opacity="0.7"/>
<circle cx="203.35" cy="393.05" r="1.45" fill="#7c9ed6" stroke="#5c80c0" stroke-width="0.4" fill-opacity="0.72" stroke-opacity="0.7"/>
<circle cx="200.77" cy="395.17" r="1.45" fill="#7c9ed6" stroke="#5c80c0" stroke-width="0.4" fill-opacity="0.72" stroke-opacity="0.7"/>
<circle cx="199.77" cy="391.44" r="1.45" fill="#7c9ed6" stroke="#5c80c0" stroke-width="0.4" fill-opacity="0.72" stroke-opacity="0.7"/>
<circle cx="201.56" cy="394.73" r="1.45" fill="#7c9ed6" stroke="#5c80c0" stroke-width="0.4" fill-opacity="0.72" stroke-opacity="0.7"/>
<circle cx="199.26" cy="396.59" r="1.45" fill="#7c9ed6" stroke="#5c80c0" stroke-width="0.4" fill-opacity="0.72" stroke-opacity="0.7"/>
<circle cx="198.48" cy="397.05" r="1.45" fill="#7c9ed6" stroke="#5c80c0" stroke-width="0.4" fill-opacity="0.72" stroke-opacity="0.7"/>
<circle cx="199.92" cy="398.76" r="1.45" fill="#7c9ed6" stroke="#5c80c0" stroke-width="0.4" fill-opacity="0.72" stroke-opacity="0.7"/>
<circle cx="200.17" cy="393.73" r="1.45" fill="#7c9ed6" stroke="#5c80c0" stroke-width="0.4" fill-opacity="0.72" stroke-opacity="0.7"/>
<circle cx="200.74" cy="399.23" r="1.45" fill="#7c9ed6" stroke="#5c80c0" stroke-width="0.4" fill-opacity="0.72" stroke-opacity="0.7"/>
<circle cx="201.97" cy="393.62" r="1.45" fill="#7c9ed6" stroke="#5c80c0" stroke-width="0.4" fill-opacity="0.72" stroke-opacity="0.7"/>
<circle cx="201.24" cy="389.39" r="1.45" fill="#7c9ed6" stroke="#5c80c0" stroke-width="0.4" fill-opacity="0.72" stroke-opacity="0.7"/>
<circle cx="201.37" cy="393.47" r="1.45" fill="#7c9ed6" stroke="#5c80c0" stroke-width="0.4" fill-opacity="0.72" stroke-opacity="0.7"/>
<circle cx="222.22" cy="392.18" r="1.45" fill="#f0a24e" stroke="#d8893a" stroke-width="0.4" fill-opacity="0.72" stroke-opacity="0.7"/>
<circle cx="221.54" cy="399.01" r="1.45" fill="#f0a24e" stroke="#d8893a" stroke-width="0.4" fill-opacity="0.72" stroke-opacity="0.7"/>
<circle cx="221.65" cy="393.91" r="1.45" fill="#f0a24e" stroke="#d8893a" stroke-width="0.4" fill-opacity="0.72" stroke-opacity="0.7"/>
<circle cx="222.66" cy="395.89" r="1.45" fill="#f0a24e" stroke="#d8893a" stroke-width="0.4" fill-opacity="0.72" stroke-opacity="0.7"/>
<circle cx="224.22" cy="397.29" r="1.45" fill="#f0a24e" stroke="#d8893a" stroke-width="0.4" fill-opacity="0.72" stroke-opacity="0.7"/>
<circle cx="223.87" cy="393.61" r="1.45" fill="#f0a24e" stroke="#d8893a" stroke-width="0.4" fill-opacity="0.72" stroke-opacity="0.7"/>
<circle cx="224.27" cy="398.47" r="1.45" fill="#f0a24e" stroke="#d8893a" stroke-width="0.4" fill-opacity="0.72" stroke-opacity="0.7"/>
<circle cx="220.88" cy="394.03" r="1.45" fill="#f0a24e" stroke="#d8893a" stroke-width="0.4" fill-opacity="0.72" stroke-opacity="0.7"/>
<circle cx="223.47" cy="397.72" r="1.45" fill="#f0a24e" stroke="#d8893a" stroke-width="0.4" fill-opacity="0.72" stroke-opacity="0.7"/>
<circle cx="222.73" cy="398.57" r="1.45" fill="#f0a24e" stroke="#d8893a" stroke-width="0.4" fill-opacity="0.72" stroke-opacity="0.7"/>
<circle cx="224.02" cy="393.00" r="1.45" fill="#f0a24e" stroke="#d8893a" stroke-width="0.4" fill-opacity="0.72" stroke-opacity="0.7"/>
<circle cx="220.17" cy="395.96" r="1.45" fill="#f0a24e" stroke="#d8893a" stroke-width="0.4" fill-opacity="0.72" stroke-opacity="0.7"/>
<circle cx="222.98" cy="391.90" r="1.45" fill="#f0a24e" stroke="#d8893a" stroke-width="0.4" fill-opacity="0.72" stroke-opacity="0.7"/>
<circle cx="222.33" cy="391.53" r="1.45" fill="#f0a24e" stroke="#d8893a" stroke-width="0.4" fill-opacity="0.72" stroke-opacity="0.7"/>
<circle cx="218.70" cy="399.12" r="1.45" fill="#f0a24e" stroke="#d8893a" stroke-width="0.4" fill-opacity="0.72" stroke-opacity="0.7"/>
<circle cx="222.40" cy="398.55" r="1.45" fill="#f0a24e" stroke="#d8893a" stroke-width="0.4" fill-opacity="0.72" stroke-opacity="0.7"/>
<circle cx="220.99" cy="396.63" r="1.45" fill="#f0a24e" stroke="#d8893a" stroke-width="0.4" fill-opacity="0.72" stroke-opacity="0.7"/>
<circle cx="219.69" cy="394.94" r="1.45" fill="#f0a24e" stroke="#d8893a" stroke-width="0.4" fill-opacity="0.72" stroke-opacity="0.7"/>
<circle cx="223.95" cy="401.16" r="1.45" fill="#f0a24e" stroke="#d8893a" stroke-width="0.4" fill-opacity="0.72" stroke-opacity="0.7"/>
<circle cx="224.46" cy="398.46" r="1.45" fill="#f0a24e" stroke="#d8893a" stroke-width="0.4" fill-opacity="0.72" stroke-opacity="0.7"/>
<circle cx="224.14" cy="393.29" r="1.45" fill="#f0a24e" stroke="#d8893a" stroke-width="0.4" fill-opacity="0.72" stroke-opacity="0.7"/>
<circle cx="221.40" cy="393.86" r="1.45" fill="#f0a24e" stroke="#d8893a" stroke-width="0.4" fill-opacity="0.72" stroke-opacity="0.7"/>
<circle cx="224.47" cy="395.25" r="1.45" fill="#f0a24e" stroke="#d8893a" stroke-width="0.4" fill-opacity="0.72" stroke-opacity="0.7"/>
<circle cx="220.61" cy="397.51" r="1.45" fill="#f0a24e" stroke="#d8893a" stroke-width="0.4" fill-opacity="0.72" stroke-opacity="0.7"/>
<circle cx="223.96" cy="402.19" r="1.45" fill="#f0a24e" stroke="#d8893a" stroke-width="0.4" fill-opacity="0.72" stroke-opacity="0.7"/>
<circle cx="221.42" cy="395.26" r="1.45" fill="#f0a24e" stroke="#d8893a" stroke-width="0.4" fill-opacity="0.72" stroke-opacity="0.7"/>
<circle cx="222.51" cy="396.71" r="1.45" fill="#f0a24e" stroke="#d8893a" stroke-width="0.4" fill-opacity="0.72" stroke-opacity="0.7"/>
<circle cx="223.48" cy="394.37" r="1.45" fill="#f0a24e" stroke="#d8893a" stroke-width="0.4" fill-opacity="0.72" stroke-opacity="0.7"/>
<circle cx="219.71" cy="398.94" r="1.45" fill="#f0a24e" stroke="#d8893a" stroke-width="0.4" fill-opacity="0.72" stroke-opacity="0.7"/>
<circle cx="218.67" cy="394.43" r="1.45" fill="#f0a24e" stroke="#d8893a" stroke-width="0.4" fill-opacity="0.72" stroke-opacity="0.7"/>
<circle cx="233.16" cy="398.95" r="1.45" fill="#f0a24e" stroke="#d8893a" stroke-width="0.4" fill-opacity="0.72" stroke-opacity="0.7"/>
<circle cx="229.11" cy="395.83" r="1.45" fill="#f0a24e" stroke="#d8893a" stroke-width="0.4" fill-opacity="0.72" stroke-opacity="0.7"/>
<circle cx="229.80" cy="399.13" r="1.45" fill="#f0a24e" stroke="#d8893a" stroke-width="0.4" fill-opacity="0.72" stroke-opacity="0.7"/>
<circle cx="229.87" cy="395.68" r="1.45" fill="#f0a24e" stroke="#d8893a" stroke-width="0.4" fill-opacity="0.72" stroke-opacity="0.7"/>
<circle cx="233.02" cy="398.24" r="1.45" fill="#f0a24e" stroke="#d8893a" stroke-width="0.4" fill-opacity="0.72" stroke-opacity="0.7"/>
<circle cx="234.89" cy="397.50" r="1.45" fill="#f0a24e" stroke="#d8893a" stroke-width="0.4" fill-opacity="0.72" stroke-opacity="0.7"/>
<circle cx="233.88" cy="396.74" r="1.45" fill="#f0a24e" stroke="#d8893a" stroke-width="0.4" fill-opacity="0.72" stroke-opacity="0.7"/>
<circle cx="229.43" cy="397.28" r="1.45" fill="#f0a24e" stroke="#d8893a" stroke-width="0.4" fill-opacity="0.72" stroke-opacity="0.7"/>
<circle cx="228.79" cy="397.07" r="1.45" fill="#f0a24e" stroke="#d8893a" stroke-width="0.4" fill-opacity="0.72" stroke-opacity="0.7"/>
<circle cx="229.87" cy="397.07" r="1.45" fill="#f0a24e" stroke="#d8893a" stroke-width="0.4" fill-opacity="0.72" stroke-opacity="0.7"/>
<circle cx="230.14" cy="397.21" r="1.45" fill="#f0a24e" stroke="#d8893a" stroke-width="0.4" fill-opacity="0.72" stroke-opacity="0.7"/>
<circle cx="228.30" cy="398.21" r="1.45" fill="#f0a24e" stroke="#d8893a" stroke-width="0.4" fill-opacity="0.72" stroke-opacity="0.7"/>
<circle cx="233.82" cy="398.08" r="1.45" fill="#f0a24e" stroke="#d8893a" stroke-width="0.4" fill-opacity="0.72" stroke-opacity="0.7"/>
<circle cx="234.18" cy="398.21" r="1.45" fill="#f0a24e" stroke="#d8893a" stroke-width="0.4" fill-opacity="0.72" stroke-opacity="0.7"/>
<circle cx="228.13" cy="399.32" r="1.45" fill="#f0a24e" stroke="#d8893a" stroke-width="0.4" fill-opacity="0.72" stroke-opacity="0.7"/>
<circle cx="234.59" cy="396.61" r="1.45" fill="#f0a24e" stroke="#d8893a" stroke-width="0.4" fill-opacity="0.72" stroke-opacity="0.7"/>
<circle cx="173.28" cy="412.70" r="1.45" fill="#d5978a" stroke="#b87a6e" stroke-width="0.4" fill-opacity="0.72" stroke-opacity="0.7"/>
<circle cx="179.53" cy="413.37" r="1.45" fill="#d5978a" stroke="#b87a6e" stroke-width="0.4" fill-opacity="0.72" stroke-opacity="0.7"/>
<circle cx="184.58" cy="414.46" r="1.45" fill="#d5978a" stroke="#b87a6e" stroke-width="0.4" fill-opacity="0.72" stroke-opacity="0.7"/>
<circle cx="179.56" cy="416.24" r="1.45" fill="#d5978a" stroke="#b87a6e" stroke-width="0.4" fill-opacity="0.72" stroke-opacity="0.7"/>
<circle cx="181.84" cy="417.68" r="1.45" fill="#d5978a" stroke="#b87a6e" stroke-width="0.4" fill-opacity="0.72" stroke-opacity="0.7"/>
<circle cx="174.03" cy="414.24" r="1.45" fill="#d5978a" stroke="#b87a6e" stroke-width="0.4" fill-opacity="0.72" stroke-opacity="0.7"/>
<circle cx="174.74" cy="415.69" r="1.45" fill="#d5978a" stroke="#b87a6e" stroke-width="0.4" fill-opacity="0.72" stroke-opacity="0.7"/>
<circle cx="180.78" cy="409.20" r="1.45" fill="#d5978a" stroke="#b87a6e" stroke-width="0.4" fill-opacity="0.72" stroke-opacity="0.7"/>
<circle cx="175.65" cy="415.94" r="1.45" fill="#d5978a" stroke="#b87a6e" stroke-width="0.4" fill-opacity="0.72" stroke-opacity="0.7"/>
<circle cx="179.26" cy="415.93" r="1.45" fill="#d5978a" stroke="#b87a6e" stroke-width="0.4" fill-opacity="0.72" stroke-opacity="0.7"/>
<circle cx="177.74" cy="410.40" r="1.45" fill="#d5978a" stroke="#b87a6e" stroke-width="0.4" fill-opacity="0.72" stroke-opacity="0.7"/>
<circle cx="184.61" cy="414.74" r="1.45" fill="#d5978a" stroke="#b87a6e" stroke-width="0.4" fill-opacity="0.72" stroke-opacity="0.7"/>
<circle cx="178.92" cy="412.98" r="1.45" fill="#d5978a" stroke="#b87a6e" stroke-width="0.4" fill-opacity="0.72" stroke-opacity="0.7"/>
<circle cx="181.64" cy="415.20" r="1.45" fill="#d5978a" stroke="#b87a6e" stroke-width="0.4" fill-opacity="0.72" stroke-opacity="0.7"/>
<circle cx="183.97" cy="411.34" r="1.45" fill="#d5978a" stroke="#b87a6e" stroke-width="0.4" fill-opacity="0.72" stroke-opacity="0.7"/>
<circle cx="182.90" cy="414.66" r="1.45" fill="#d5978a" stroke="#b87a6e" stroke-width="0.4" fill-opacity="0.72" stroke-opacity="0.7"/>
<circle cx="183.23" cy="416.47" r="1.45" fill="#d5978a" stroke="#b87a6e" stroke-width="0.4" fill-opacity="0.72" stroke-opacity="0.7"/>
<circle cx="184.48" cy="414.32" r="1.45" fill="#d5978a" stroke="#b87a6e" stroke-width="0.4" fill-opacity="0.72" stroke-opacity="0.7"/>
<circle cx="179.29" cy="415.22" r="1.45" fill="#d5978a" stroke="#b87a6e" stroke-width="0.4" fill-opacity="0.72" stroke-opacity="0.7"/>
<circle cx="182.62" cy="411.48" r="1.45" fill="#d5978a" stroke="#b87a6e" stroke-width="0.4" fill-opacity="0.72" stroke-opacity="0.7"/>
<circle cx="178.05" cy="407.91" r="1.45" fill="#d5978a" stroke="#b87a6e" stroke-width="0.4" fill-opacity="0.72" stroke-opacity="0.7"/>
<circle cx="177.51" cy="408.19" r="1.45" fill="#d5978a" stroke="#b87a6e" stroke-width="0.4" fill-opacity="0.72" stroke-opacity="0.7"/>
<circle cx="178.64" cy="412.40" r="1.45" fill="#b0909c" stroke="#907080" stroke-width="0.4" fill-opacity="0.72" stroke-opacity="0.7"/>
<circle cx="177.49" cy="411.47" r="1.45" fill="#b0909c" stroke="#907080" stroke-width="0.4" fill-opacity="0.72" stroke-opacity="0.7"/>
<circle cx="177.93" cy="414.18" r="1.45" fill="#b0909c" stroke="#907080" stroke-width="0.4" fill-opacity="0.72" stroke-opacity="0.7"/>
<circle cx="183.20" cy="410.45" r="1.45" fill="#b0909c" stroke="#907080" stroke-width="0.4" fill-opacity="0.72" stroke-opacity="0.7"/>
<circle cx="177.51" cy="412.67" r="1.45" fill="#b0909c" stroke="#907080" stroke-width="0.4" fill-opacity="0.72" stroke-opacity="0.7"/>
<circle cx="181.67" cy="416.26" r="1.45" fill="#b0909c" stroke="#907080" stroke-width="0.4" fill-opacity="0.72" stroke-opacity="0.7"/>
<circle cx="178.49" cy="410.75" r="1.45" fill="#b0909c" stroke="#907080" stroke-width="0.4" fill-opacity="0.72" stroke-opacity="0.7"/>
<circle cx="178.89" cy="414.73" r="1.45" fill="#b0909c" stroke="#907080" stroke-width="0.4" fill-opacity="0.72" stroke-opacity="0.7"/>
<circle cx="187.57" cy="407.19" r="1.45" fill="#a6a0a6" stroke="#888088" stroke-width="0.4" fill-opacity="0.72" stroke-opacity="0.7"/>
<circle cx="185.12" cy="407.61" r="1.45" fill="#a6a0a6" stroke="#888088" stroke-width="0.4" fill-opacity="0.72" stroke-opacity="0.7"/>
<circle cx="185.04" cy="411.17" r="1.45" fill="#a6a0a6" stroke="#888088" stroke-width="0.4" fill-opacity="0.72" stroke-opacity="0.7"/>
<circle cx="185.88" cy="409.61" r="1.45" fill="#a6a0a6" stroke="#888088" stroke-width="0.4" fill-opacity="0.72" stroke-opacity="0.7"/>
<circle cx="188.89" cy="409.10" r="1.45" fill="#a6a0a6" stroke="#888088" stroke-width="0.4" fill-opacity="0.72" stroke-opacity="0.7"/>
<circle cx="185.57" cy="412.14" r="1.45" fill="#a6a0a6" stroke="#888088" stroke-width="0.4" fill-opacity="0.72" stroke-opacity="0.7"/>
<circle cx="189.47" cy="408.07" r="1.45" fill="#a6a0a6" stroke="#888088" stroke-width="0.4" fill-opacity="0.72" stroke-opacity="0.7"/>
<circle cx="187.28" cy="412.66" r="1.45" fill="#a6a0a6" stroke="#888088" stroke-width="0.4" fill-opacity="0.72" stroke-opacity="0.7"/>
<circle cx="186.90" cy="407.17" r="1.45" fill="#a6a0a6" stroke="#888088" stroke-width="0.4" fill-opacity="0.72" stroke-opacity="0.7"/>
<circle cx="188.80" cy="408.39" r="1.45" fill="#a6a0a6" stroke="#888088" stroke-width="0.4" fill-opacity="0.72" stroke-opacity="0.7"/>
<circle cx="187.16" cy="409.37" r="1.45" fill="#a6a0a6" stroke="#888088" stroke-width="0.4" fill-opacity="0.72" stroke-opacity="0.7"/>
<circle cx="187.94" cy="407.29" r="1.45" fill="#a6a0a6" stroke="#888088" stroke-width="0.4" fill-opacity="0.72" stroke-opacity="0.7"/>
<circle cx="190.66" cy="413.04" r="1.45" fill="#e2a6c6" stroke="#c888a8" stroke-width="0.4" fill-opacity="0.72" stroke-opacity="0.7"/>
<circle cx="195.41" cy="418.54" r="1.45" fill="#e2a6c6" stroke="#c888a8" stroke-width="0.4" fill-opacity="0.72" stroke-opacity="0.7"/>
<circle cx="199.91" cy="415.30" r="1.45" fill="#e2a6c6" stroke="#c888a8" stroke-width="0.4" fill-opacity="0.72" stroke-opacity="0.7"/>
<circle cx="192.59" cy="407.68" r="1.45" fill="#e2a6c6" stroke="#c888a8" stroke-width="0.4" fill-opacity="0.72" stroke-opacity="0.7"/>
<circle cx="194.75" cy="409.42" r="1.45" fill="#e2a6c6" stroke="#c888a8" stroke-width="0.4" fill-opacity="0.72" stroke-opacity="0.7"/>
<circle cx="201.96" cy="413.77" r="1.45" fill="#e2a6c6" stroke="#c888a8" stroke-width="0.4" fill-opacity="0.72" stroke-opacity="0.7"/>
<circle cx="194.02" cy="414.09" r="1.45" fill="#e2a6c6" stroke="#c888a8" stroke-width="0.4" fill-opacity="0.72" stroke-opacity="0.7"/>
<circle cx="192.50" cy="418.09" r="1.45" fill="#e2a6c6" stroke="#c888a8" stroke-width="0.4" fill-opacity="0.72" stroke-opacity="0.7"/>
<circle cx="201.66" cy="418.97" r="1.45" fill="#e2a6c6" stroke="#c888a8" stroke-width="0.4" fill-opacity="0.72" stroke-opacity="0.7"/>
<circle cx="191.60" cy="409.60" r="1.45" fill="#e2a6c6" stroke="#c888a8" stroke-width="0.4" fill-opacity="0.72" stroke-opacity="0.7"/>
<circle cx="199.95" cy="406.66" r="1.45" fill="#e2a6c6" stroke="#c888a8" stroke-width="0.4" fill-opacity="0.72" stroke-opacity="0.7"/>
<circle cx="196.84" cy="412.97" r="1.45" fill="#e2a6c6" stroke="#c888a8" stroke-width="0.4" fill-opacity="0.72" stroke-opacity="0.7"/>
<circle cx="203.10" cy="414.97" r="1.45" fill="#e2a6c6" stroke="#c888a8" stroke-width="0.4" fill-opacity="0.72" stroke-opacity="0.7"/>
<circle cx="201.81" cy="410.17" r="1.45" fill="#e2a6c6" stroke="#c888a8" stroke-width="0.4" fill-opacity="0.72" stroke-opacity="0.7"/>
<circle cx="200.91" cy="412.09" r="1.45" fill="#e2a6c6" stroke="#c888a8" stroke-width="0.4" fill-opacity="0.72" stroke-opacity="0.7"/>
<circle cx="201.40" cy="408.55" r="1.45" fill="#e2a6c6" stroke="#c888a8" stroke-width="0.4" fill-opacity="0.72" stroke-opacity="0.7"/>
<circle cx="197.67" cy="413.94" r="1.45" fill="#e2a6c6" stroke="#c888a8" stroke-width="0.4" fill-opacity="0.72" stroke-opacity="0.7"/>
<circle cx="192.59" cy="419.13" r="1.45" fill="#e2a6c6" stroke="#c888a8" stroke-width="0.4" fill-opacity="0.72" stroke-opacity="0.7"/>
<circle cx="194.62" cy="410.29" r="1.45" fill="#e2a6c6" stroke="#c888a8" stroke-width="0.4" fill-opacity="0.72" stroke-opacity="0.7"/>
<circle cx="191.52" cy="410.20" r="1.45" fill="#e2a6c6" stroke="#c888a8" stroke-width="0.4" fill-opacity="0.72" stroke-opacity="0.7"/>
<circle cx="196.67" cy="417.15" r="1.45" fill="#e2a6c6" stroke="#c888a8" stroke-width="0.4" fill-opacity="0.72" stroke-opacity="0.7"/>
<circle cx="195.25" cy="416.67" r="1.45" fill="#e2a6c6" stroke="#c888a8" stroke-width="0.4" fill-opacity="0.72" stroke-opacity="0.7"/>
<circle cx="191.91" cy="411.71" r="1.45" fill="#e2a6c6" stroke="#c888a8" stroke-width="0.4" fill-opacity="0.72" stroke-opacity="0.7"/>
<circle cx="196.60" cy="421.42" r="1.45" fill="#e2a6c6" stroke="#c888a8" stroke-width="0.4" fill-opacity="0.72" stroke-opacity="0.7"/>
<circle cx="201.44" cy="416.11" r="1.45" fill="#e2a6c6" stroke="#c888a8" stroke-width="0.4" fill-opacity="0.72" stroke-opacity="0.7"/>
<circle cx="199.87" cy="409.05" r="1.45" fill="#e2a6c6" stroke="#c888a8" stroke-width="0.4" fill-opacity="0.72" stroke-opacity="0.7"/>
<circle cx="197.94" cy="412.79" r="1.45" fill="#e2a6c6" stroke="#c888a8" stroke-width="0.4" fill-opacity="0.72" stroke-opacity="0.7"/>
<circle cx="201.04" cy="408.52" r="1.45" fill="#e2a6c6" stroke="#c888a8" stroke-width="0.4" fill-opacity="0.72" stroke-opacity="0.7"/>
<circle cx="198.63" cy="409.94" r="1.45" fill="#e2a6c6" stroke="#c888a8" stroke-width="0.4" fill-opacity="0.72" stroke-opacity="0.7"/>
<circle cx="195.47" cy="414.17" r="1.45" fill="#e2a6c6" stroke="#c888a8" stroke-width="0.4" fill-opacity="0.72" stroke-opacity="0.7"/>
<circle cx="194.44" cy="410.74" r="1.45" fill="#e2a6c6" stroke="#c888a8" stroke-width="0.4" fill-opacity="0.72" stroke-opacity="0.7"/>
<circle cx="195.68" cy="416.33" r="1.45" fill="#e2a6c6" stroke="#c888a8" stroke-width="0.4" fill-opacity="0.72" stroke-opacity="0.7"/>
<circle cx="193.89" cy="408.41" r="1.45" fill="#e2a6c6" stroke="#c888a8" stroke-width="0.4" fill-opacity="0.72" stroke-opacity="0.7"/>
<circle cx="200.15" cy="410.60" r="1.45" fill="#e2a6c6" stroke="#c888a8" stroke-width="0.4" fill-opacity="0.72" stroke-opacity="0.7"/>
<circle cx="202.96" cy="414.57" r="1.45" fill="#e2a6c6" stroke="#c888a8" stroke-width="0.4" fill-opacity="0.72" stroke-opacity="0.7"/>
<circle cx="200.05" cy="410.64" r="1.45" fill="#e2a6c6" stroke="#c888a8" stroke-width="0.4" fill-opacity="0.72" stroke-opacity="0.7"/>
<circle cx="199.44" cy="417.03" r="1.45" fill="#e2a6c6" stroke="#c888a8" stroke-width="0.4" fill-opacity="0.72" stroke-opacity="0.7"/>
<circle cx="192.88" cy="411.84" r="1.45" fill="#e2a6c6" stroke="#c888a8" stroke-width="0.4" fill-opacity="0.72" stroke-opacity="0.7"/>
<circle cx="201.54" cy="415.07" r="1.45" fill="#e2a6c6" stroke="#c888a8" stroke-width="0.4" fill-opacity="0.72" stroke-opacity="0.7"/>
<circle cx="191.70" cy="408.86" r="1.45" fill="#e2a6c6" stroke="#c888a8" stroke-width="0.4" fill-opacity="0.72" stroke-opacity="0.7"/>
<circle cx="193.52" cy="404.16" r="1.45" fill="#b06868" stroke="#904848" stroke-width="0.4" fill-opacity="0.72" stroke-opacity="0.7"/>
<circle cx="194.79" cy="404.86" r="1.45" fill="#b06868" stroke="#904848" stroke-width="0.4" fill-opacity="0.72" stroke-opacity="0.7"/>
<circle cx="195.02" cy="410.29" r="1.45" fill="#b06868" stroke="#904848" stroke-width="0.4" fill-opacity="0.72" stroke-opacity="0.7"/>
<circle cx="195.53" cy="410.63" r="1.45" fill="#b06868" stroke="#904848" stroke-width="0.4" fill-opacity="0.72" stroke-opacity="0.7"/>
<circle cx="168.30" cy="416.50" r="1.50" fill="#8a8494" stroke="#706a78" stroke-width="0.45"/>
<circle cx="180.00" cy="428.90" r="1.50" fill="#b0909c" stroke="#907080" stroke-width="0.45"/>
<circle cx="189.40" cy="434.00" r="1.50" fill="#e2a6c6" stroke="#c888a8" stroke-width="0.45"/>
<circle cx="190.50" cy="433.40" r="1.50" fill="#e2a6c6" stroke="#c888a8" stroke-width="0.45"/>
<circle cx="186.50" cy="440.50" r="1.50" fill="#a6a0a6" stroke="#888088" stroke-width="0.45"/>
<circle cx="187.60" cy="440.20" r="1.50" fill="#a6a0a6" stroke="#888088" stroke-width="0.45"/>
<circle cx="181.00" cy="428.60" r="1.50" fill="#b0909c" stroke="#907080" stroke-width="0.45"/>
<text x="242.70" y="371.30" font-size="6.2" text-anchor="start" font-weight="normal" fill="#303030" color="#303030" textLength="13" lengthAdjust="spacingAndGlyphs" >Cells</text>
<circle cx="244.70" cy="376.70" r="1.30" fill="#c0b0b0" />
<text x="249.30" y="378.80" font-size="6.2" text-anchor="start" font-weight="normal" fill="#303030" color="#303030" >CD14+</text>
<circle cx="244.70" cy="384.25" r="1.30" fill="#c8a8b8" />
<text x="249.30" y="386.35" font-size="6.2" text-anchor="start" font-weight="normal" fill="#303030" color="#303030" >CD19+</text>
<circle cx="244.70" cy="391.80" r="1.30" fill="#a0b498" />
<text x="249.30" y="393.90" font-size="6.2" text-anchor="start" font-weight="normal" fill="#303030" color="#303030" >CD3+</text>
<circle cx="244.70" cy="399.35" r="1.30" fill="#c0a098" />
<text x="249.30" y="401.45" font-size="6.2" text-anchor="start" font-weight="normal" fill="#303030" color="#303030" >CD45int</text>
<circle cx="244.70" cy="406.90" r="1.30" fill="#b0a8b0" />
<text x="249.30" y="409.00" font-size="6.2" text-anchor="start" font-weight="normal" fill="#303030" color="#303030" >CD45−</text>
<circle cx="244.70" cy="414.45" r="1.30" fill="#a8a0a8" />
<text x="249.30" y="416.55" font-size="6.2" text-anchor="start" font-weight="normal" fill="#303030" color="#303030" >CD45+</text>
<circle cx="244.70" cy="422.00" r="1.30" fill="#bcb8bc" />
<text x="249.30" y="424.10" font-size="6.2" text-anchor="start" font-weight="normal" fill="#303030" color="#303030" >CD45+TN</text>
<circle cx="244.70" cy="429.55" r="1.30" fill="#b4b4b4" />
<text x="249.30" y="431.65" font-size="6.2" text-anchor="start" font-weight="normal" fill="#303030" color="#303030" >LiveCells</text>
<text x="296.60" y="348.30" font-size="10.5" text-anchor="start" font-weight="bold" fill="#000" color="#000" >J</text>
<rect x="335.9" y="346.6" width="31.80" height="6.9" rx="2" fill="#c9c9c9"/>
<text x="351.80" y="352.00" font-size="5" text-anchor="middle" font-weight="normal" fill="#eeeeee" color="#eeeeee" >NK/Cytotoxic</text>
<rect x="369.9" y="346.6" width="28.00" height="6.9" rx="2" fill="#c9c9c9"/>
<text x="383.90" y="352.00" font-size="5" text-anchor="middle" font-weight="normal" fill="#eeeeee" color="#eeeeee" >Mono/Mac</text>
<rect x="400.0" y="346.6" width="28.40" height="6.9" rx="2" fill="#c9c9c9"/>
<text x="414.20" y="352.00" font-size="5" text-anchor="middle" font-weight="normal" fill="#eeeeee" color="#eeeeee" >B</text>
<rect x="430.3" y="346.6" width="25.80" height="6.9" rx="2" fill="#c9c9c9"/>
<text x="443.20" y="352.00" font-size="5" text-anchor="middle" font-weight="normal" fill="#eeeeee" color="#eeeeee" >T</text>
<circle cx="340.80" cy="369.80" r="1.75" fill="#a8164c" />
<circle cx="348.25" cy="369.80" r="1.75" fill="#a8164c" />
<circle cx="355.70" cy="369.80" r="1.75" fill="#a8164c" />
<circle cx="363.15" cy="369.80" r="1.45" fill="#a8164c" />
<circle cx="370.60" cy="369.80" r="0.90" fill="#f0dbe4" />
<circle cx="378.05" cy="369.80" r="0.90" fill="#f0dbe4" />
<circle cx="385.50" cy="369.80" r="0.90" fill="#f0dbe4" />
<circle cx="392.95" cy="369.80" r="0.90" fill="#f0dbe4" />
<circle cx="400.40" cy="369.80" r="0.90" fill="#f0dbe4" />
<circle cx="407.85" cy="369.80" r="0.90" fill="#f0dbe4" />
<circle cx="415.30" cy="369.80" r="0.90" fill="#f0dbe4" />
<circle cx="422.75" cy="369.80" r="0.90" fill="#f0dbe4" />
<circle cx="430.20" cy="369.80" r="0.90" fill="#f0dbe4" />
<circle cx="437.65" cy="369.80" r="0.90" fill="#f0dbe4" />
<circle cx="445.10" cy="369.80" r="0.90" fill="#f0dbe4" />
<circle cx="452.55" cy="369.80" r="0.90" fill="#f0dbe4" />
<circle cx="340.80" cy="390.80" r="0.90" fill="#f0dbe4" />
<circle cx="348.25" cy="390.80" r="0.90" fill="#f0dbe4" />
<circle cx="355.70" cy="390.80" r="0.90" fill="#f0dbe4" />
<circle cx="363.15" cy="390.80" r="0.90" fill="#f0dbe4" />
<circle cx="370.60" cy="390.80" r="1.75" fill="#a8164c" />
<circle cx="378.05" cy="390.80" r="1.75" fill="#a8164c" />
<circle cx="385.50" cy="390.80" r="1.75" fill="#a8164c" />
<circle cx="392.95" cy="390.80" r="1.75" fill="#a8164c" />
<circle cx="400.40" cy="390.80" r="0.90" fill="#f0dbe4" />
<circle cx="407.85" cy="390.80" r="0.90" fill="#f0dbe4" />
<circle cx="415.30" cy="390.80" r="0.90" fill="#f0dbe4" />
<circle cx="422.75" cy="390.80" r="0.90" fill="#f0dbe4" />
<circle cx="430.20" cy="390.80" r="0.90" fill="#f0dbe4" />
<circle cx="437.65" cy="390.80" r="0.90" fill="#f0dbe4" />
<circle cx="445.10" cy="390.80" r="0.90" fill="#f0dbe4" />
<circle cx="452.55" cy="390.80" r="0.90" fill="#f0dbe4" />
<circle cx="340.80" cy="411.60" r="0.90" fill="#f0dbe4" />
<circle cx="348.25" cy="411.60" r="0.90" fill="#f0dbe4" />
<circle cx="355.70" cy="411.60" r="0.90" fill="#f0dbe4" />
<circle cx="363.15" cy="411.60" r="0.90" fill="#f0dbe4" />
<circle cx="370.60" cy="411.60" r="0.90" fill="#f0dbe4" />
<circle cx="378.05" cy="411.60" r="0.90" fill="#f0dbe4" />
<circle cx="385.50" cy="411.60" r="0.90" fill="#f0dbe4" />
<circle cx="392.95" cy="411.60" r="0.90" fill="#f0dbe4" />
<circle cx="400.40" cy="411.60" r="0.90" fill="#f0dbe4" />
<circle cx="407.85" cy="411.60" r="1.75" fill="#a8164c" />
<circle cx="415.30" cy="411.60" r="1.75" fill="#a8164c" />
<circle cx="422.75" cy="411.60" r="1.75" fill="#a8164c" />
<circle cx="430.20" cy="411.60" r="0.90" fill="#f0dbe4" />
<circle cx="437.65" cy="411.60" r="0.90" fill="#f0dbe4" />
<circle cx="445.10" cy="411.60" r="0.90" fill="#f0dbe4" />
<circle cx="452.55" cy="411.60" r="0.90" fill="#f0dbe4" />
<circle cx="340.80" cy="432.70" r="0.90" fill="#f0dbe4" />
<circle cx="348.25" cy="432.70" r="0.90" fill="#f0dbe4" />
<circle cx="355.70" cy="432.70" r="0.90" fill="#f0dbe4" />
<circle cx="363.15" cy="432.70" r="0.90" fill="#f0dbe4" />
<circle cx="370.60" cy="432.70" r="0.90" fill="#f0dbe4" />
<circle cx="378.05" cy="432.70" r="0.90" fill="#f0dbe4" />
<circle cx="385.50" cy="432.70" r="0.90" fill="#f0dbe4" />
<circle cx="392.95" cy="432.70" r="0.90" fill="#f0dbe4" />
<circle cx="400.40" cy="432.70" r="0.90" fill="#f0dbe4" />
<circle cx="407.85" cy="432.70" r="0.90" fill="#f0dbe4" />
<circle cx="415.30" cy="432.70" r="0.90" fill="#f0dbe4" />
<circle cx="422.75" cy="432.70" r="0.90" fill="#f0dbe4" />
<circle cx="430.20" cy="432.70" r="1.75" fill="#a8164c" />
<circle cx="437.65" cy="432.70" r="1.75" fill="#a8164c" />
<circle cx="445.10" cy="432.70" r="1.75" fill="#a8164c" />
<circle cx="452.55" cy="432.70" r="1.75" fill="#a8164c" />
<circle cx="400.40" cy="411.60" r="0.90" fill="#c03060" />
<circle cx="385.50" cy="369.80" r="1.10" fill="#e8b8cc" />
<circle cx="452.55" cy="369.80" r="1.10" fill="#eac0d0" />
<circle cx="355.70" cy="432.70" r="1.40" fill="#e8b0c8" />
<circle cx="340.80" cy="390.80" r="1.00" fill="#eed0dc" />
<rect x="336.60" y="357.50" width="29.80" height="21.80" fill="none" stroke="#111" stroke-width="1"/>
<rect x="366.40" y="379.30" width="29.90" height="21.50" fill="none" stroke="#111" stroke-width="1"/>
<rect x="396.30" y="400.80" width="29.80" height="21.80" fill="none" stroke="#111" stroke-width="1"/>
<rect x="426.10" y="422.60" width="30.10" height="21.70" fill="none" stroke="#111" stroke-width="1"/>
<line x1="336.60" y1="357.00" x2="336.60" y2="444.30" stroke="#222" stroke-width="1"/>
<line x1="336.60" y1="444.30" x2="457.00" y2="444.30" stroke="#222" stroke-width="1"/>
<line x1="334.40" y1="369.80" x2="336.60" y2="369.80" stroke="#222" stroke-width="0.9"/>
<text x="331.00" y="372.10" font-size="6.5" text-anchor="end" font-weight="normal" fill="#303030" color="#303030" >CD45+TN</text>
<line x1="334.40" y1="390.80" x2="336.60" y2="390.80" stroke="#222" stroke-width="0.9"/>
<text x="331.00" y="393.10" font-size="6.5" text-anchor="end" font-weight="normal" fill="#303030" color="#303030" >CD14+</text>
<line x1="334.40" y1="411.60" x2="336.60" y2="411.60" stroke="#222" stroke-width="0.9"/>
<text x="331.00" y="413.90" font-size="6.5" text-anchor="end" font-weight="normal" fill="#303030" color="#303030" >CD19+</text>
<line x1="334.40" y1="432.70" x2="336.60" y2="432.70" stroke="#222" stroke-width="0.9"/>
<text x="331.00" y="435.00" font-size="6.5" text-anchor="end" font-weight="normal" fill="#303030" color="#303030" >CD3+</text>
<line x1="340.80" y1="444.30" x2="340.80" y2="446.50" stroke="#222" stroke-width="0.9"/>
<text x="342.80" y="448.50" font-size="5.6" text-anchor="end" font-weight="normal" fill="#303030" color="#303030" transform="rotate(-90 342.80 448.50)" >FCGR3A</text>
<line x1="348.25" y1="444.30" x2="348.25" y2="446.50" stroke="#222" stroke-width="0.9"/>
<text x="350.25" y="448.50" font-size="5.6" text-anchor="end" font-weight="normal" fill="#303030" color="#303030" transform="rotate(-90 350.25 448.50)" >NCAM1</text>
<line x1="355.70" y1="444.30" x2="355.70" y2="446.50" stroke="#222" stroke-width="0.9"/>
<text x="357.70" y="448.50" font-size="5.6" text-anchor="end" font-weight="normal" fill="#303030" color="#303030" transform="rotate(-90 357.70 448.50)" >GNLY</text>
<line x1="363.15" y1="444.30" x2="363.15" y2="446.50" stroke="#222" stroke-width="0.9"/>
<text x="365.15" y="448.50" font-size="5.6" text-anchor="end" font-weight="normal" fill="#303030" color="#303030" transform="rotate(-90 365.15 448.50)" >FCER1A</text>
<line x1="370.60" y1="444.30" x2="370.60" y2="446.50" stroke="#222" stroke-width="0.9"/>
<text x="372.60" y="448.50" font-size="5.6" text-anchor="end" font-weight="normal" fill="#303030" color="#303030" transform="rotate(-90 372.60 448.50)" >CD14</text>
<line x1="378.05" y1="444.30" x2="378.05" y2="446.50" stroke="#222" stroke-width="0.9"/>
<text x="380.05" y="448.50" font-size="5.6" text-anchor="end" font-weight="normal" fill="#303030" color="#303030" transform="rotate(-90 380.05 448.50)" >LYZ</text>
<line x1="385.50" y1="444.30" x2="385.50" y2="446.50" stroke="#222" stroke-width="0.9"/>
<text x="387.50" y="448.50" font-size="5.6" text-anchor="end" font-weight="normal" fill="#303030" color="#303030" transform="rotate(-90 387.50 448.50)" >ITGAX</text>
<line x1="392.95" y1="444.30" x2="392.95" y2="446.50" stroke="#222" stroke-width="0.9"/>
<text x="394.95" y="448.50" font-size="5.6" text-anchor="end" font-weight="normal" fill="#303030" color="#303030" transform="rotate(-90 394.95 448.50)" >VCAN</text>
<line x1="400.40" y1="444.30" x2="400.40" y2="446.50" stroke="#222" stroke-width="0.9"/>
<text x="402.40" y="448.50" font-size="5.6" text-anchor="end" font-weight="normal" fill="#303030" color="#303030" transform="rotate(-90 402.40 448.50)" >IGLL1</text>
<line x1="407.85" y1="444.30" x2="407.85" y2="446.50" stroke="#222" stroke-width="0.9"/>
<text x="409.85" y="448.50" font-size="5.6" text-anchor="end" font-weight="normal" fill="#303030" color="#303030" transform="rotate(-90 409.85 448.50)" >TCL1A</text>
<line x1="415.30" y1="444.30" x2="415.30" y2="446.50" stroke="#222" stroke-width="0.9"/>
<text x="417.30" y="448.50" font-size="5.6" text-anchor="end" font-weight="normal" fill="#303030" color="#303030" transform="rotate(-90 417.30 448.50)" >CD19</text>
<line x1="422.75" y1="444.30" x2="422.75" y2="446.50" stroke="#222" stroke-width="0.9"/>
<text x="424.75" y="448.50" font-size="5.6" text-anchor="end" font-weight="normal" fill="#303030" color="#303030" transform="rotate(-90 424.75 448.50)" >MS4A1</text>
<line x1="430.20" y1="444.30" x2="430.20" y2="446.50" stroke="#222" stroke-width="0.9"/>
<text x="432.20" y="448.50" font-size="5.6" text-anchor="end" font-weight="normal" fill="#303030" color="#303030" transform="rotate(-90 432.20 448.50)" >CD3D</text>
<line x1="437.65" y1="444.30" x2="437.65" y2="446.50" stroke="#222" stroke-width="0.9"/>
<text x="439.65" y="448.50" font-size="5.6" text-anchor="end" font-weight="normal" fill="#303030" color="#303030" transform="rotate(-90 439.65 448.50)" >IL7R</text>
<line x1="445.10" y1="444.30" x2="445.10" y2="446.50" stroke="#222" stroke-width="0.9"/>
<text x="447.10" y="448.50" font-size="5.6" text-anchor="end" font-weight="normal" fill="#303030" color="#303030" transform="rotate(-90 447.10 448.50)" >CD8A</text>
<line x1="452.55" y1="444.30" x2="452.55" y2="446.50" stroke="#222" stroke-width="0.9"/>
<text x="454.55" y="448.50" font-size="5.6" text-anchor="end" font-weight="normal" fill="#303030" color="#303030" transform="rotate(-90 454.55 448.50)" >GZMH</text>
<text x="463.00" y="378.50" font-size="5.9" text-anchor="start" font-weight="normal" fill="#303030" color="#303030" textLength="50.3" lengthAdjust="spacingAndGlyphs" >Average Expression</text>
<defs><linearGradient id="ge" x1="0" y1="0" x2="0" y2="1"><stop offset="0" stop-color="#b03a68"/><stop offset="0.5" stop-color="#dc9ab8"/><stop offset="1" stop-color="#f8eef2"/></linearGradient></defs>
<rect x="463.50" y="380.00" width="3.20" height="17.70" fill="url(#ge)" />
<text x="468.60" y="384.00" font-size="5.0" text-anchor="start" font-weight="normal" fill="#303030" color="#303030" >1.0</text>
<text x="468.60" y="388.40" font-size="5.0" text-anchor="start" font-weight="normal" fill="#303030" color="#303030" >0.5</text>
<text x="468.60" y="392.90" font-size="5.0" text-anchor="start" font-weight="normal" fill="#303030" color="#303030" >0.0</text>
<text x="466.80" y="398.40" font-size="5.0" text-anchor="start" font-weight="normal" fill="#303030" color="#303030" >−0.5</text>
<text x="463.00" y="406.00" font-size="5.9" text-anchor="start" font-weight="normal" fill="#303030" color="#303030" textLength="48.5" lengthAdjust="spacingAndGlyphs" >Percent Expressed</text>
<circle cx="464.70" cy="411.80" r="0.45" fill="#111" />
<text x="480.60" y="413.90" font-size="6.0" text-anchor="end" font-weight="normal" fill="#303030" color="#303030" >0</text>
<circle cx="464.70" cy="418.50" r="0.80" fill="#111" />
<text x="480.60" y="420.60" font-size="6.0" text-anchor="end" font-weight="normal" fill="#303030" color="#303030" >25</text>
<circle cx="464.70" cy="425.60" r="1.10" fill="#111" />
<text x="480.60" y="427.70" font-size="6.0" text-anchor="end" font-weight="normal" fill="#303030" color="#303030" >50</text>
<circle cx="464.70" cy="432.70" r="1.45" fill="#111" />
<text x="480.60" y="434.80" font-size="6.0" text-anchor="end" font-weight="normal" fill="#303030" color="#303030" >75</text>
<circle cx="464.70" cy="439.60" r="1.85" fill="#111" />
<text x="480.60" y="441.70" font-size="6.0" text-anchor="end" font-weight="normal" fill="#303030" color="#303030" >100</text>
<rect x="0.5" y="0.5" width="519" height="480" fill="none" stroke="#646464" stroke-width="1"/>
</svg>
</body></html>
